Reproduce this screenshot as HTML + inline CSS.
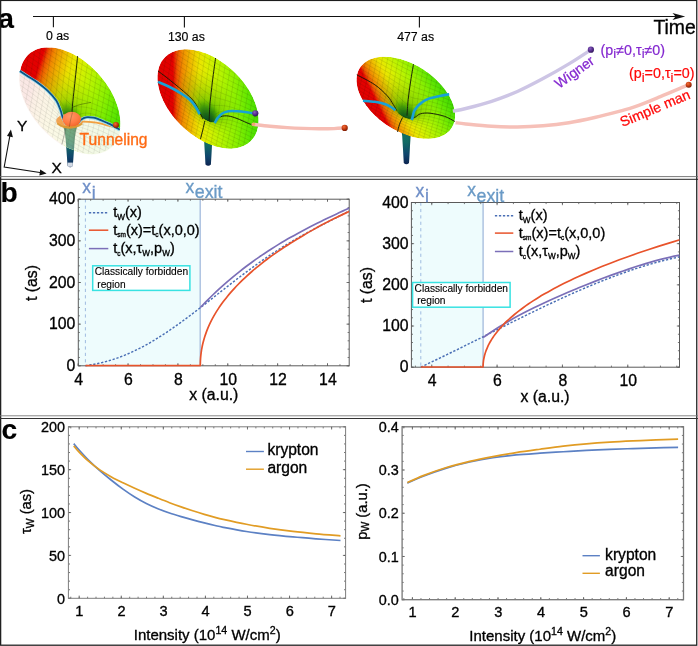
<!DOCTYPE html>
<html><head><meta charset="utf-8"><title>figure</title>
<style>
html,body{margin:0;padding:0;background:#fff;}
body{width:698px;height:646px;overflow:hidden;font-family:"Liberation Sans",sans-serif;}
svg{will-change:transform;opacity:0.9999;}
svg text{font-family:"Liberation Sans",sans-serif;}
</style></head><body>
<svg width="698" height="646" viewBox="0 0 698 646" style="display:block">
<rect x="0" y="0" width="698" height="646" fill="#fff"/>
<defs>
<radialGradient id="gball_o" cx="0.38" cy="0.32" r="0.7"><stop offset="0" stop-color="#f0703a"/><stop offset="0.5" stop-color="#c83c10"/><stop offset="1" stop-color="#7a1c04"/></radialGradient>
<radialGradient id="gball_p" cx="0.38" cy="0.32" r="0.7"><stop offset="0" stop-color="#8a60c0"/><stop offset="0.5" stop-color="#5c3294"/><stop offset="1" stop-color="#2e1458"/></radialGradient>
<radialGradient id="gsphere" cx="0.4" cy="0.3" r="0.75"><stop offset="0" stop-color="#ff9868"/><stop offset="0.6" stop-color="#ff7c44"/><stop offset="1" stop-color="#f06428"/></radialGradient>
<linearGradient id="gstem" x1="0" y1="0" x2="0" y2="1"><stop offset="0" stop-color="#0e7058"/><stop offset="0.45" stop-color="#0b6462"/><stop offset="0.75" stop-color="#083c6c"/><stop offset="1" stop-color="#06164c"/></linearGradient>
<linearGradient id="gstem1" x1="0" y1="0" x2="0" y2="1"><stop offset="0" stop-color="#3f8a4c"/><stop offset="0.4" stop-color="#2c7a5c"/><stop offset="0.7" stop-color="#176670"/><stop offset="1" stop-color="#0a3a6c"/></linearGradient>
<linearGradient id="gstemh" x1="0" y1="0" x2="1" y2="0"><stop offset="0" stop-color="#000" stop-opacity="0.3"/><stop offset="0.45" stop-color="#6c9" stop-opacity="0.06"/><stop offset="1" stop-color="#000" stop-opacity="0.3"/></linearGradient>

<linearGradient id="gd0" gradientUnits="userSpaceOnUse" x1="11.13" y1="80.67" x2="124.32" y2="118.99"><stop offset="0.0" stop-color="#e00000"/><stop offset="0.18" stop-color="#e40000"/><stop offset="0.22" stop-color="#ec5400"/><stop offset="0.27" stop-color="#f08a00"/><stop offset="0.34" stop-color="#f0b400"/><stop offset="0.43" stop-color="#ece400"/><stop offset="0.52" stop-color="#d8f000"/><stop offset="0.64" stop-color="#b6f400"/><stop offset="0.78" stop-color="#8cf000"/><stop offset="0.9" stop-color="#62e800"/><stop offset="1.0" stop-color="#46dc00"/></linearGradient>
<clipPath id="cd0"><path d="M119.80,130.70 L120.14,128.36 L120.35,125.95 L120.41,123.46 L120.34,120.91 L120.13,118.31 L119.79,115.66 L119.31,112.97 L118.69,110.24 L117.94,107.49 L117.05,104.72 L116.04,101.93 L114.90,99.15 L113.64,96.36 L112.26,93.59 L110.76,90.84 L109.16,88.12 L107.44,85.43 L105.62,82.78 L103.71,80.18 L101.70,77.63 L99.60,75.15 L97.43,72.74 L95.18,70.40 L92.85,68.15 L90.47,65.99 L88.03,63.92 L85.54,61.95 L83.01,60.09 L80.45,58.34 L77.85,56.70 L75.23,55.18 L72.60,53.79 L69.96,52.53 L67.32,51.40 L64.69,50.41 L62.08,49.55 L59.48,48.83 L56.92,48.25 L54.39,47.82 L51.90,47.53 L49.46,47.39 L47.08,47.39 L44.76,47.54 L42.51,47.84 L40.34,48.27 L38.24,48.86 L36.24,49.58 L34.33,50.44 L32.51,51.45 L30.80,52.58 L29.19,53.85 L27.70,55.25 L26.32,56.77 L25.06,58.41 L23.93,60.16 L22.92,62.03 L22.04,64.00 L21.29,66.08 L20.68,68.24 L20.20,70.50 L19.86,72.84 L19.65,75.25 L19.59,77.74 L19.66,80.29 L19.87,82.89 L20.21,85.54 L20.69,88.23 L21.31,90.96 L22.06,93.71 L22.95,96.48 L23.96,99.27 L25.10,102.05 L26.36,104.84 L27.74,107.61 L29.24,110.36 L30.84,113.08 L32.56,115.77 L34.38,118.42 L36.29,121.02 L38.30,123.57 L40.40,126.05 L42.57,128.46 L44.82,130.80 L47.15,133.05 L49.53,135.21 L51.97,137.28 L54.46,139.25 L56.99,141.11 L59.55,142.86 L62.15,144.50 L64.77,146.02 L67.40,147.41 L70.04,148.67 L72.68,149.80 L75.31,150.79 L77.92,151.65 L80.52,152.37 L83.08,152.95 L85.61,153.38 L88.10,153.67 L90.54,153.81 L92.92,153.81 L95.24,153.66 L97.49,153.36 L99.66,152.93 L101.76,152.34 L103.76,151.62 L105.67,150.76 L107.49,149.75 L109.20,148.62 L110.81,147.35 L112.30,145.95 L113.68,144.43 L114.94,142.79 L116.07,141.04 L117.08,139.17 L117.96,137.20 L118.71,135.12 L119.32,132.96Z"/></clipPath>
<linearGradient id="gd1" gradientUnits="userSpaceOnUse" x1="154.10" y1="99.00" x2="258.60" y2="99.00"><stop offset="0.0" stop-color="#e00000"/><stop offset="0.18" stop-color="#e40000"/><stop offset="0.22" stop-color="#ec5400"/><stop offset="0.27" stop-color="#f08a00"/><stop offset="0.34" stop-color="#f0b400"/><stop offset="0.43" stop-color="#ece400"/><stop offset="0.52" stop-color="#d8f000"/><stop offset="0.64" stop-color="#b6f400"/><stop offset="0.78" stop-color="#8cf000"/><stop offset="0.9" stop-color="#62e800"/><stop offset="1.0" stop-color="#46dc00"/></linearGradient>
<clipPath id="cd1"><path d="M258.00,127.00 L258.33,124.82 L258.52,122.56 L258.57,120.24 L258.49,117.86 L258.26,115.43 L257.90,112.96 L257.40,110.45 L256.77,107.90 L256.00,105.33 L255.10,102.75 L254.07,100.15 L252.92,97.55 L251.64,94.96 L250.24,92.37 L248.73,89.81 L247.10,87.27 L245.37,84.76 L243.54,82.29 L241.61,79.86 L239.58,77.49 L237.47,75.18 L235.28,72.93 L233.01,70.76 L230.68,68.66 L228.28,66.64 L225.83,64.72 L223.33,62.88 L220.78,61.15 L218.21,59.52 L215.60,58.00 L212.97,56.59 L210.33,55.30 L207.68,54.12 L205.04,53.07 L202.40,52.15 L199.78,51.35 L197.18,50.69 L194.61,50.16 L192.07,49.76 L189.58,49.49 L187.14,49.36 L184.76,49.37 L182.44,49.52 L180.19,49.80 L178.02,50.21 L175.93,50.76 L173.93,51.44 L172.02,52.25 L170.21,53.19 L168.50,54.25 L166.90,55.44 L165.41,56.74 L164.04,58.17 L162.80,59.70 L161.67,61.34 L160.67,63.09 L159.80,64.93 L159.07,66.87 L158.47,68.89 L158.00,71.00 L157.67,73.18 L157.48,75.44 L157.43,77.76 L157.51,80.14 L157.74,82.57 L158.10,85.04 L158.60,87.55 L159.23,90.10 L160.00,92.67 L160.90,95.25 L161.93,97.85 L163.08,100.45 L164.36,103.04 L165.76,105.63 L167.27,108.19 L168.90,110.73 L170.63,113.24 L172.46,115.71 L174.39,118.14 L176.42,120.51 L178.53,122.82 L180.72,125.07 L182.99,127.24 L185.32,129.34 L187.72,131.36 L190.17,133.28 L192.67,135.12 L195.22,136.85 L197.79,138.48 L200.40,140.00 L203.03,141.41 L205.67,142.70 L208.32,143.88 L210.96,144.93 L213.60,145.85 L216.22,146.65 L218.82,147.31 L221.39,147.84 L223.93,148.24 L226.42,148.51 L228.86,148.64 L231.24,148.63 L233.56,148.48 L235.81,148.20 L237.98,147.79 L240.07,147.24 L242.07,146.56 L243.98,145.75 L245.79,144.81 L247.50,143.75 L249.10,142.56 L250.59,141.26 L251.96,139.83 L253.20,138.30 L254.33,136.66 L255.33,134.91 L256.20,133.07 L256.93,131.13 L257.53,129.11Z"/></clipPath>
<linearGradient id="gd2" gradientUnits="userSpaceOnUse" x1="367.50" y1="116.63" x2="439.71" y2="81.13"><stop offset="0.0" stop-color="#e00000"/><stop offset="0.18" stop-color="#e40000"/><stop offset="0.22" stop-color="#ec5400"/><stop offset="0.27" stop-color="#f08a00"/><stop offset="0.34" stop-color="#f0b400"/><stop offset="0.43" stop-color="#ece400"/><stop offset="0.52" stop-color="#d8f000"/><stop offset="0.64" stop-color="#b6f400"/><stop offset="0.78" stop-color="#8cf000"/><stop offset="0.9" stop-color="#62e800"/><stop offset="1.0" stop-color="#46dc00"/></linearGradient>
<clipPath id="cd2"><path d="M454.50,121.10 L454.84,119.30 L455.04,117.44 L455.10,115.53 L455.04,113.56 L454.83,111.56 L454.50,109.51 L454.02,107.44 L453.42,105.34 L452.69,103.22 L451.83,101.08 L450.84,98.93 L449.73,96.78 L448.49,94.64 L447.14,92.50 L445.68,90.38 L444.11,88.27 L442.43,86.20 L440.65,84.15 L438.78,82.14 L436.82,80.18 L434.77,78.26 L432.64,76.40 L430.44,74.59 L428.17,72.85 L425.84,71.18 L423.46,69.58 L421.02,68.06 L418.55,66.62 L416.04,65.27 L413.50,64.00 L410.94,62.83 L408.37,61.75 L405.79,60.77 L403.21,59.89 L400.63,59.12 L398.07,58.45 L395.54,57.90 L393.03,57.45 L390.55,57.11 L388.12,56.88 L385.73,56.76 L383.40,56.76 L381.14,56.87 L378.94,57.09 L376.81,57.42 L374.76,57.87 L372.80,58.42 L370.93,59.08 L369.15,59.85 L367.47,60.72 L365.90,61.69 L364.44,62.77 L363.09,63.93 L361.86,65.20 L360.75,66.55 L359.77,67.98 L358.90,69.50 L358.17,71.09 L357.57,72.76 L357.10,74.50 L356.76,76.30 L356.56,78.16 L356.50,80.07 L356.56,82.04 L356.77,84.04 L357.10,86.09 L357.58,88.16 L358.18,90.26 L358.91,92.38 L359.77,94.52 L360.76,96.67 L361.87,98.82 L363.11,100.96 L364.46,103.10 L365.92,105.22 L367.49,107.33 L369.17,109.40 L370.95,111.45 L372.82,113.46 L374.78,115.42 L376.83,117.34 L378.96,119.20 L381.16,121.01 L383.43,122.75 L385.76,124.42 L388.14,126.02 L390.58,127.54 L393.05,128.98 L395.56,130.33 L398.10,131.60 L400.66,132.77 L403.23,133.85 L405.81,134.83 L408.39,135.71 L410.97,136.48 L413.53,137.15 L416.06,137.70 L418.57,138.15 L421.05,138.49 L423.48,138.72 L425.87,138.84 L428.20,138.84 L430.46,138.73 L432.66,138.51 L434.79,138.18 L436.84,137.73 L438.80,137.18 L440.67,136.52 L442.45,135.75 L444.13,134.88 L445.70,133.91 L447.16,132.83 L448.51,131.67 L449.74,130.40 L450.85,129.05 L451.83,127.62 L452.70,126.10 L453.43,124.51 L454.03,122.84Z"/></clipPath>
</defs>
<g stroke="#111" stroke-width="1.1" fill="none">
<path d="M33,16.5H676"/>
<path d="M53.4,16.5V27.3 M184.4,16.5V27.5 M419.4,16.5V27.5"/>
</g>
<path d="M685.2,16.5 L672.5,12.9 L675.6,16.5 L672.5,20.1Z" fill="#111"/>
<text x="45.90" y="40.40" font-size="12.3" text-anchor="start" fill="#000"  stroke="#000" stroke-width="0.16">0 as</text>
<text x="167.90" y="40.50" font-size="12.3" text-anchor="start" fill="#000"  stroke="#000" stroke-width="0.16">130 as</text>
<text x="397.20" y="40.50" font-size="12.3" text-anchor="start" fill="#000"  stroke="#000" stroke-width="0.16">477 as</text>
<text x="653.40" y="34.10" font-size="19.4" text-anchor="start" fill="#000"  stroke="#000" stroke-width="0.32">Time</text>
<g opacity="1.0"><path d="M63.30,126.00 Q64.80,130.94 65.64,138.36 L67.60,166.00 Q70.20,168.40 72.80,166.00 L74.76,138.36 Q75.60,130.94 77.10,126.00Z" fill="url(#gstem)"/><path d="M63.30,126.00 Q64.80,130.94 65.64,138.36 L67.60,166.00 Q70.20,168.40 72.80,166.00 L74.76,138.36 Q75.60,130.94 77.10,126.00Z" fill="url(#gstemh)"/></g>
<rect x="67.6" y="162.6" width="5.2" height="4.2" fill="#e8edf4" opacity="0.9"/>
<g clip-path="url(#cd0)">
<path d="M119.80,130.70 L120.14,128.36 L120.35,125.95 L120.41,123.46 L120.34,120.91 L120.13,118.31 L119.79,115.66 L119.31,112.97 L118.69,110.24 L117.94,107.49 L117.05,104.72 L116.04,101.93 L114.90,99.15 L113.64,96.36 L112.26,93.59 L110.76,90.84 L109.16,88.12 L107.44,85.43 L105.62,82.78 L103.71,80.18 L101.70,77.63 L99.60,75.15 L97.43,72.74 L95.18,70.40 L92.85,68.15 L90.47,65.99 L88.03,63.92 L85.54,61.95 L83.01,60.09 L80.45,58.34 L77.85,56.70 L75.23,55.18 L72.60,53.79 L69.96,52.53 L67.32,51.40 L64.69,50.41 L62.08,49.55 L59.48,48.83 L56.92,48.25 L54.39,47.82 L51.90,47.53 L49.46,47.39 L47.08,47.39 L44.76,47.54 L42.51,47.84 L40.34,48.27 L38.24,48.86 L36.24,49.58 L34.33,50.44 L32.51,51.45 L30.80,52.58 L29.19,53.85 L27.70,55.25 L26.32,56.77 L25.06,58.41 L23.93,60.16 L22.92,62.03 L22.04,64.00 L21.29,66.08 L20.68,68.24 L20.20,70.50 L19.86,72.84 L19.65,75.25 L19.59,77.74 L19.66,80.29 L19.87,82.89 L20.21,85.54 L20.69,88.23 L21.31,90.96 L22.06,93.71 L22.95,96.48 L23.96,99.27 L25.10,102.05 L26.36,104.84 L27.74,107.61 L29.24,110.36 L30.84,113.08 L32.56,115.77 L34.38,118.42 L36.29,121.02 L38.30,123.57 L40.40,126.05 L42.57,128.46 L44.82,130.80 L47.15,133.05 L49.53,135.21 L51.97,137.28 L54.46,139.25 L56.99,141.11 L59.55,142.86 L62.15,144.50 L64.77,146.02 L67.40,147.41 L70.04,148.67 L72.68,149.80 L75.31,150.79 L77.92,151.65 L80.52,152.37 L83.08,152.95 L85.61,153.38 L88.10,153.67 L90.54,153.81 L92.92,153.81 L95.24,153.66 L97.49,153.36 L99.66,152.93 L101.76,152.34 L103.76,151.62 L105.67,150.76 L107.49,149.75 L109.20,148.62 L110.81,147.35 L112.30,145.95 L113.68,144.43 L114.94,142.79 L116.07,141.04 L117.08,139.17 L117.96,137.20 L118.71,135.12 L119.32,132.96Z" fill="url(#gd0)"/>
<path d="M100.88,121.62 L101.23,115.96 L100.39,109.79 L98.38,103.36 L95.27,96.91 L91.20,90.70 L86.31,84.96 L80.80,79.91 L74.87,75.74 L68.75,72.63 L62.68,70.67 L56.89,69.96 L51.61,70.52 L47.03,72.32 L43.34,75.31 L40.67,79.35 L39.12,84.30 L38.77,89.97 L39.61,96.14 L41.62,102.57 L44.73,109.01 L48.80,115.23 L53.69,120.97 L59.20,126.02 L65.13,130.18 L71.25,133.30 L77.32,135.25 L83.11,135.96 L88.39,135.40 L92.97,133.60 L96.66,130.62 L99.33,126.58Z" fill="#3fae00" opacity="0.024"/>
<path d="M97.39,120.29 L97.71,115.26 L96.96,109.79 L95.17,104.08 L92.42,98.37 L88.81,92.86 L84.47,87.76 L79.58,83.28 L74.32,79.59 L68.89,76.82 L63.51,75.09 L58.37,74.46 L53.69,74.95 L49.62,76.55 L46.35,79.20 L43.98,82.79 L42.61,87.18 L42.29,92.21 L43.04,97.68 L44.83,103.38 L47.58,109.10 L51.19,114.61 L55.53,119.71 L60.42,124.19 L65.68,127.88 L71.11,130.64 L76.49,132.38 L81.63,133.01 L86.31,132.51 L90.38,130.91 L93.65,128.27 L96.02,124.68Z" fill="#3fae00" opacity="0.030"/>
<path d="M93.90,119.16 L94.18,114.77 L93.53,110.00 L91.97,105.02 L89.57,100.03 L86.41,95.22 L82.63,90.77 L78.36,86.86 L73.77,83.64 L69.03,81.23 L64.33,79.72 L59.85,79.17 L55.76,79.60 L52.22,80.99 L49.36,83.30 L47.29,86.43 L46.10,90.27 L45.82,94.65 L46.47,99.43 L48.03,104.41 L50.43,109.40 L53.59,114.21 L57.37,118.65 L61.64,122.56 L66.23,125.79 L70.97,128.20 L75.67,129.71 L80.15,130.26 L84.24,129.83 L87.78,128.43 L90.64,126.13 L92.71,122.99Z" fill="#3fae00" opacity="0.036"/>
<path d="M90.92,118.43 L91.16,114.59 L90.59,110.41 L89.22,106.05 L87.12,101.69 L84.36,97.48 L81.05,93.59 L77.31,90.17 L73.30,87.35 L69.15,85.24 L65.04,83.91 L61.12,83.43 L57.54,83.81 L54.44,85.03 L51.94,87.05 L50.13,89.79 L49.08,93.14 L48.84,96.98 L49.41,101.16 L50.78,105.52 L52.88,109.88 L55.64,114.09 L58.95,117.98 L62.69,121.40 L66.70,124.22 L70.85,126.34 L74.96,127.66 L78.88,128.14 L82.46,127.76 L85.56,126.54 L88.06,124.52 L89.87,121.78Z" fill="#3fae00" opacity="0.042"/>
<path d="M88.43,118.05 L88.64,114.67 L88.13,110.99 L86.93,107.15 L85.08,103.30 L82.65,99.59 L79.73,96.17 L76.44,93.15 L72.90,90.67 L69.25,88.81 L65.63,87.64 L62.18,87.22 L59.02,87.55 L56.29,88.63 L54.09,90.41 L52.49,92.82 L51.57,95.77 L51.36,99.16 L51.87,102.84 L53.07,106.68 L54.92,110.52 L57.35,114.23 L60.27,117.66 L63.56,120.67 L67.10,123.15 L70.75,125.02 L74.37,126.18 L77.82,126.60 L80.98,126.27 L83.71,125.20 L85.91,123.42 L87.51,121.00Z" fill="#3fae00" opacity="0.048"/>
<path d="M86.43,117.95 L86.62,114.94 L86.17,111.65 L85.10,108.23 L83.45,104.80 L81.28,101.49 L78.68,98.44 L75.75,95.75 L72.59,93.53 L69.33,91.87 L66.10,90.83 L63.02,90.46 L60.21,90.75 L57.77,91.71 L55.81,93.30 L54.39,95.45 L53.57,98.09 L53.38,101.10 L53.83,104.39 L54.90,107.81 L56.55,111.24 L58.72,114.55 L61.32,117.60 L64.25,120.29 L67.41,122.51 L70.67,124.17 L73.90,125.21 L76.98,125.58 L79.79,125.29 L82.23,124.33 L84.19,122.74 L85.61,120.59Z" fill="#3fae00" opacity="0.054"/>
<path d="M84.44,118.10 L84.61,115.45 L84.21,112.57 L83.27,109.56 L81.82,106.54 L79.92,103.64 L77.63,100.95 L75.05,98.59 L72.28,96.64 L69.42,95.18 L66.58,94.27 L63.87,93.94 L61.40,94.20 L59.26,95.04 L57.53,96.44 L56.28,98.33 L55.56,100.64 L55.39,103.30 L55.79,106.18 L56.73,109.19 L58.18,112.20 L60.08,115.11 L62.37,117.80 L64.95,120.16 L67.72,122.10 L70.58,123.56 L73.42,124.48 L76.13,124.81 L78.60,124.55 L80.74,123.70 L82.47,122.31 L83.72,120.42Z" fill="#3fae00" opacity="0.060"/>
<path d="M82.95,118.42 L83.10,116.05 L82.74,113.46 L81.90,110.76 L80.60,108.06 L78.89,105.45 L76.84,103.05 L74.53,100.93 L72.04,99.18 L69.48,97.88 L66.93,97.06 L64.50,96.76 L62.29,96.99 L60.37,97.75 L58.82,99.00 L57.70,100.69 L57.05,102.77 L56.90,105.15 L57.26,107.73 L58.10,110.43 L59.40,113.13 L61.11,115.74 L63.16,118.15 L65.47,120.27 L67.96,122.01 L70.52,123.32 L73.07,124.14 L75.50,124.44 L77.71,124.20 L79.63,123.45 L81.18,122.20 L82.30,120.50Z" fill="#3fae00" opacity="0.060"/>
<clipPath id="clip0"><path d="M81.95,118.76 L82.10,117.32 L82.03,115.79 L81.76,114.18 L81.29,112.52 L80.63,110.85 L79.78,109.19 L78.77,107.57 L77.61,106.02 L76.31,104.57 L74.91,103.23 L73.43,102.03 L71.88,101.00 L70.31,100.15 L68.73,99.49 L67.17,99.04 L65.66,98.80 L64.22,98.78 L62.88,98.98 L61.66,99.39 L60.59,100.01 L59.68,100.83 L58.94,101.83 L58.40,103.00 L58.05,104.31 L57.90,105.75 L57.97,107.28 L58.24,108.89 L58.71,110.55 L59.37,112.22 L60.22,113.88 L61.23,115.50 L62.39,117.05 L63.69,118.51 L65.09,119.84 L66.57,121.04 L68.12,122.07 L69.69,122.92 L71.27,123.58 L72.83,124.03 L74.34,124.27 L75.78,124.29 L77.12,124.09 L78.34,123.68 L79.41,123.06 L80.32,122.24 L81.06,121.24 L81.60,120.07Z"/></clipPath>
<g clip-path="url(#clip0)">
<path d="M81.70,118.86 L81.84,116.71 L81.52,114.37 L80.76,111.94 L79.58,109.49 L78.04,107.14 L76.18,104.96 L74.09,103.05 L71.84,101.47 L69.53,100.29 L67.23,99.55 L65.03,99.28 L63.03,99.49 L61.29,100.17 L59.89,101.30 L58.88,102.84 L58.30,104.71 L58.16,106.86 L58.48,109.20 L59.24,111.64 L60.42,114.08 L61.96,116.44 L63.82,118.61 L65.91,120.53 L68.16,122.10 L70.47,123.29 L72.77,124.03 L74.97,124.30 L76.97,124.08 L78.71,123.40 L80.11,122.27 L81.12,120.74Z" fill="#4ab800" opacity="0.07"/>
<path d="M81.17,119.10 L81.30,117.05 L81.00,114.82 L80.27,112.49 L79.14,110.16 L77.67,107.91 L75.90,105.84 L73.91,104.01 L71.76,102.50 L69.55,101.37 L67.35,100.67 L65.26,100.41 L63.35,100.61 L61.69,101.27 L60.35,102.34 L59.39,103.81 L58.83,105.60 L58.70,107.65 L59.00,109.88 L59.73,112.21 L60.86,114.54 L62.33,116.79 L64.10,118.87 L66.09,120.69 L68.24,122.20 L70.45,123.33 L72.65,124.03 L74.74,124.29 L76.65,124.09 L78.31,123.44 L79.65,122.36 L80.61,120.90Z" fill="#42ab03" opacity="0.08"/>
<path d="M80.64,119.38 L80.76,117.43 L80.47,115.30 L79.78,113.09 L78.71,110.87 L77.31,108.73 L75.62,106.75 L73.72,105.01 L71.68,103.57 L69.57,102.50 L67.48,101.82 L65.48,101.58 L63.66,101.77 L62.08,102.39 L60.81,103.42 L59.89,104.81 L59.36,106.52 L59.24,108.47 L59.53,110.60 L60.22,112.81 L61.29,115.04 L62.69,117.18 L64.38,119.16 L66.28,120.90 L68.32,122.33 L70.43,123.41 L72.52,124.08 L74.52,124.32 L76.34,124.13 L77.92,123.51 L79.19,122.48 L80.11,121.09Z" fill="#3da206" opacity="0.10"/>
<path d="M80.11,119.70 L80.23,117.85 L79.95,115.83 L79.29,113.72 L78.28,111.61 L76.94,109.58 L75.34,107.70 L73.54,106.04 L71.59,104.68 L69.59,103.66 L67.60,103.02 L65.71,102.79 L63.98,102.97 L62.48,103.56 L61.27,104.54 L60.40,105.86 L59.89,107.48 L59.77,109.34 L60.05,111.36 L60.71,113.46 L61.72,115.57 L63.06,117.61 L64.66,119.49 L66.46,121.14 L68.41,122.50 L70.41,123.52 L72.40,124.16 L74.29,124.40 L76.02,124.21 L77.52,123.62 L78.73,122.65 L79.60,121.32Z" fill="#389a09" opacity="0.11"/>
<path d="M79.58,120.06 L79.69,118.30 L79.43,116.39 L78.80,114.40 L77.84,112.40 L76.58,110.47 L75.06,108.69 L73.35,107.12 L71.51,105.83 L69.61,104.86 L67.73,104.26 L65.93,104.04 L64.29,104.21 L62.87,104.77 L61.73,105.69 L60.90,106.95 L60.42,108.48 L60.31,110.24 L60.57,112.16 L61.20,114.15 L62.16,116.15 L63.42,118.08 L64.94,119.86 L66.65,121.42 L68.49,122.72 L70.39,123.68 L72.27,124.29 L74.07,124.51 L75.71,124.34 L77.13,123.78 L78.27,122.85 L79.10,121.60Z" fill="#34920b" opacity="0.13"/>
<path d="M79.05,120.47 L79.15,118.81 L78.90,117.00 L78.31,115.12 L77.41,113.23 L76.21,111.41 L74.78,109.73 L73.16,108.25 L71.43,107.03 L69.63,106.11 L67.86,105.54 L66.16,105.33 L64.61,105.49 L63.27,106.02 L62.19,106.90 L61.41,108.08 L60.95,109.53 L60.85,111.19 L61.10,113.00 L61.69,114.88 L62.59,116.77 L63.79,118.59 L65.22,120.28 L66.84,121.76 L68.57,122.98 L70.37,123.89 L72.14,124.46 L73.84,124.67 L75.39,124.51 L76.73,123.98 L77.81,123.10 L78.59,121.92Z" fill="#308b0e" opacity="0.16"/>
<path d="M78.52,120.92 L78.61,119.36 L78.38,117.66 L77.83,115.89 L76.97,114.11 L75.85,112.39 L74.50,110.81 L72.98,109.42 L71.34,108.27 L69.66,107.41 L67.98,106.87 L66.38,106.67 L64.93,106.83 L63.67,107.33 L62.65,108.15 L61.91,109.26 L61.48,110.63 L61.39,112.19 L61.62,113.89 L62.17,115.67 L63.03,117.44 L64.15,119.16 L65.50,120.74 L67.02,122.13 L68.66,123.28 L70.34,124.14 L72.02,124.68 L73.62,124.88 L75.07,124.72 L76.33,124.23 L77.35,123.40 L78.09,122.29Z" fill="#2c8410" opacity="0.18"/>
<path d="M77.98,121.43 L78.08,119.96 L77.86,118.37 L77.34,116.70 L76.54,115.04 L75.48,113.43 L74.22,111.95 L72.79,110.64 L71.26,109.56 L69.68,108.76 L68.11,108.25 L66.61,108.07 L65.24,108.21 L64.06,108.68 L63.10,109.45 L62.41,110.50 L62.02,111.78 L61.92,113.24 L62.14,114.84 L62.66,116.50 L63.46,118.17 L64.52,119.77 L65.78,121.26 L67.21,122.56 L68.74,123.64 L70.32,124.45 L71.89,124.95 L73.39,125.14 L74.76,124.99 L75.94,124.53 L76.90,123.75 L77.59,122.71Z" fill="#287d12" opacity="0.21"/>
<path d="M77.45,121.98 L77.54,120.62 L77.34,119.13 L76.85,117.58 L76.10,116.02 L75.12,114.52 L73.94,113.13 L72.61,111.91 L71.17,110.91 L69.70,110.16 L68.23,109.69 L66.84,109.51 L65.56,109.65 L64.46,110.08 L63.56,110.80 L62.92,111.78 L62.55,112.97 L62.46,114.34 L62.66,115.83 L63.15,117.38 L63.90,118.94 L64.88,120.44 L66.06,121.83 L67.39,123.05 L68.83,124.05 L70.30,124.80 L71.77,125.27 L73.16,125.45 L74.44,125.31 L75.54,124.88 L76.44,124.16 L77.08,123.18Z" fill="#247614" opacity="0.24"/>
<path d="M76.92,122.59 L77.00,121.32 L76.81,119.94 L76.36,118.50 L75.67,117.05 L74.75,115.66 L73.66,114.37 L72.42,113.24 L71.09,112.31 L69.72,111.61 L68.36,111.17 L67.06,111.01 L65.88,111.14 L64.85,111.54 L64.02,112.21 L63.42,113.12 L63.08,114.23 L63.00,115.50 L63.19,116.88 L63.64,118.32 L64.33,119.77 L65.25,121.16 L66.34,122.45 L67.58,123.58 L68.91,124.51 L70.28,125.21 L71.64,125.65 L72.94,125.81 L74.12,125.68 L75.15,125.28 L75.98,124.61 L76.58,123.71Z" fill="#207016" opacity="0.27"/>
<path d="M76.39,123.26 L76.46,122.08 L76.29,120.81 L75.87,119.48 L75.23,118.14 L74.39,116.86 L73.38,115.67 L72.23,114.62 L71.01,113.76 L69.74,113.12 L68.49,112.71 L67.29,112.56 L66.19,112.68 L65.25,113.05 L64.48,113.67 L63.93,114.51 L63.61,115.53 L63.54,116.71 L63.71,117.98 L64.13,119.31 L64.77,120.65 L65.61,121.93 L66.62,123.12 L67.77,124.17 L68.99,125.03 L70.26,125.67 L71.51,126.08 L72.71,126.23 L73.81,126.11 L74.75,125.74 L75.52,125.12 L76.07,124.28Z" fill="#1d6918" opacity="0.30"/>
<path d="M75.86,123.97 L75.93,122.89 L75.77,121.72 L75.39,120.50 L74.80,119.28 L74.02,118.10 L73.10,117.01 L72.05,116.05 L70.92,115.26 L69.76,114.67 L68.61,114.30 L67.51,114.17 L66.51,114.27 L65.64,114.61 L64.94,115.18 L64.43,115.95 L64.14,116.89 L64.07,117.96 L64.23,119.13 L64.61,120.35 L65.20,121.58 L65.98,122.76 L66.90,123.85 L67.95,124.80 L69.08,125.59 L70.24,126.19 L71.39,126.56 L72.49,126.69 L73.49,126.59 L74.36,126.24 L75.06,125.68 L75.57,124.91Z" fill="#19631a" opacity="0.33"/>
<path d="M75.33,124.73 L75.39,123.75 L75.24,122.69 L74.90,121.58 L74.36,120.46 L73.66,119.39 L72.82,118.40 L71.86,117.53 L70.84,116.81 L69.78,116.27 L68.74,115.94 L67.74,115.81 L66.83,115.91 L66.04,116.22 L65.40,116.73 L64.94,117.43 L64.67,118.29 L64.61,119.27 L64.76,120.33 L65.10,121.44 L65.64,122.55 L66.34,123.62 L67.18,124.62 L68.14,125.49 L69.16,126.21 L70.22,126.74 L71.26,127.08 L72.26,127.20 L73.17,127.11 L73.96,126.80 L74.60,126.28 L75.06,125.58Z" fill="#165d1c" opacity="0.36"/>
<path d="M74.80,125.52 L74.85,124.64 L74.72,123.68 L74.41,122.68 L73.93,121.68 L73.29,120.72 L72.53,119.82 L71.68,119.04 L70.76,118.39 L69.81,117.91 L68.86,117.61 L67.96,117.49 L67.14,117.58 L66.43,117.86 L65.86,118.32 L65.44,118.95 L65.20,119.72 L65.15,120.60 L65.28,121.56 L65.59,122.56 L66.07,123.56 L66.71,124.53 L67.47,125.42 L68.32,126.20 L69.24,126.85 L70.19,127.34 L71.14,127.64 L72.04,127.75 L72.86,127.66 L73.57,127.38 L74.14,126.92 L74.56,126.29Z" fill="#12571e" opacity="0.40"/>
<path d="M74.27,126.34 L74.32,125.55 L74.20,124.70 L73.92,123.81 L73.49,122.92 L72.93,122.06 L72.25,121.27 L71.49,120.57 L70.67,120.00 L69.83,119.57 L68.99,119.30 L68.19,119.20 L67.46,119.28 L66.83,119.52 L66.32,119.94 L65.95,120.50 L65.73,121.18 L65.68,121.96 L65.80,122.81 L66.08,123.70 L66.51,124.59 L67.07,125.45 L67.75,126.25 L68.51,126.94 L69.33,127.52 L70.17,127.95 L71.01,128.22 L71.81,128.32 L72.54,128.24 L73.17,127.99 L73.68,127.58 L74.05,127.02Z" fill="#0f5120" opacity="0.43"/>
<path d="M73.73,127.15 L73.78,126.47 L73.68,125.72 L73.43,124.94 L73.06,124.16 L72.56,123.41 L71.97,122.72 L71.31,122.11 L70.59,121.60 L69.85,121.23 L69.11,120.99 L68.41,120.90 L67.78,120.97 L67.22,121.19 L66.77,121.55 L66.45,122.04 L66.27,122.64 L66.22,123.32 L66.32,124.07 L66.57,124.85 L66.94,125.63 L67.44,126.38 L68.03,127.07 L68.69,127.68 L69.41,128.19 L70.15,128.56 L70.89,128.80 L71.59,128.89 L72.22,128.82 L72.78,128.60 L73.23,128.24 L73.55,127.75Z" fill="#0c4c22" opacity="0.47"/>
</g>
<path d="M21.8,92.6L23.3,84.2L24.9,75.5L26.5,66.7L28.0,57.6L28.6,54.4M25.4,102.9L27.0,94.5L28.6,86.1L30.2,77.5L31.7,68.6L33.3,59.4L34.9,50.2M29.5,110.9L31.1,102.7L32.7,94.5L34.2,86.1L35.8,77.4L37.4,68.2L39.0,58.9L40.5,49.5L40.7,48.2M33.8,117.7L35.4,109.6L37.0,101.6L38.6,93.6L40.1,85.1L41.7,76.0L43.3,66.5L44.8,56.9L46.4,47.4M38.3,123.6L39.9,115.6L41.4,107.8L43.0,100.2L44.6,92.2L46.2,83.2L47.7,73.4L49.3,63.5L50.9,53.8L51.9,47.5M42.9,128.8L44.5,120.9L46.0,113.3L47.6,106.1L49.2,98.9L49.7,96.1L50.3,93.1L50.8,89.8L51.4,86.3L51.9,82.7L52.5,79.0L54.0,68.6L55.6,58.6L57.2,48.9L57.3,48.3M47.6,133.4L49.1,125.6L50.7,118.2L52.3,111.5L52.8,109.4L53.4,107.3L53.9,105.2L54.5,102.9L55.0,100.2L55.6,96.8L56.1,93.0L56.7,89.0L57.2,84.9L57.8,80.9L58.3,76.9L59.9,66.3L61.5,56.3L62.5,49.7M52.3,137.6L53.9,129.8L55.5,122.5L57.1,116.3L57.6,114.5L58.2,113.1L58.7,111.9L59.0,111.4L59.3,110.8L59.5,110.0L59.8,108.9L60.1,107.5L60.4,105.7L60.6,103.6L60.9,101.3L61.2,98.8L61.5,96.3L61.7,93.8L62.0,91.3L62.6,86.6L63.1,82.3L63.7,78.2L65.2,67.3L66.8,57.3L67.7,51.6M57.2,141.3L58.8,133.5L60.3,126.2L61.9,120.4L62.5,119.0L63.0,118.2L63.3,118.1L63.6,118.3L63.8,118.7M66.0,107.6L66.3,104.0L66.6,100.6L66.9,97.5L67.1,94.6L67.4,91.9L68.0,87.0L68.5,82.6L69.1,78.4L70.6,67.7L72.2,57.8L72.8,53.9M62.1,144.5L63.7,136.7L65.3,129.5L66.9,123.8L67.4,122.5L68.0,122.0L68.2,122.2L68.5,122.8M71.5,105.5L71.8,102.0L72.1,98.7L72.4,95.8L72.9,90.7L73.5,86.1L74.0,81.9L75.6,71.0L77.1,61.0L77.8,56.7M67.2,147.3L68.7,139.5L70.3,132.3L71.9,126.4L72.4,125.0L73.0,124.2L73.3,124.1L73.5,124.3L73.8,124.7M76.0,113.6L76.3,110.0L76.6,106.6L76.8,103.5L77.1,100.6L77.4,97.9L77.9,93.0L78.5,88.6L79.0,84.5L80.6,73.7L82.2,63.8L82.8,59.9M72.3,149.6L73.8,141.8L75.4,134.5L77.0,128.3L77.5,126.6L78.1,125.1L78.6,124.0L78.9,123.4L79.2,122.8L79.5,122.0L79.7,121.0L80.0,119.6L80.3,117.8L80.6,115.7L80.8,113.3L81.1,110.8L81.4,108.3L81.6,105.8L81.9,103.4L82.5,98.7L83.0,94.3L83.6,90.2L85.1,79.4L86.7,69.4L87.7,63.6M77.5,151.5L79.0,143.6L80.6,136.2L82.2,129.5L82.7,127.4L83.3,125.4L83.8,123.3L84.4,121.0L84.9,118.2L85.5,114.9L86.0,111.1L86.6,107.1L87.1,103.0L87.7,98.9L88.2,95.0L89.8,84.4L91.3,74.4L92.4,67.8M82.7,152.9L84.3,144.9L85.9,137.4L87.4,130.2L89.0,123.0L89.6,120.2L90.1,117.2L90.7,113.9L91.2,110.4L91.8,106.8L92.3,103.1L93.9,92.7L95.4,82.7L97.0,73.0L97.1,72.4M88.1,153.7L89.7,145.7L91.2,137.9L92.8,130.3L94.4,122.3L96.0,113.3L97.5,103.5L99.1,93.6L100.7,83.9L101.7,77.6M93.6,153.8L95.2,145.7L96.7,137.7L98.3,129.7L99.9,121.2L101.4,112.1L103.0,102.6L104.6,93.0L106.2,83.5M99.3,153.0L100.8,144.8L102.4,136.6L104.0,128.3L105.5,119.5L107.1,110.4L108.7,101.0L110.2,91.6L110.5,90.3M105.1,151.0L106.7,142.7L108.3,134.3L109.8,125.7L111.4,116.7L113.0,107.6L114.5,98.3M111.4,146.8L113.0,138.3L114.5,129.7L116.1,120.8L117.7,111.8L118.2,108.6M41.2,127.0L51.2,133.3L61.1,139.5L71.1,145.4L81.1,151.2L84.6,153.2M33.8,117.7L43.8,124.1L53.8,130.5L63.7,136.7L73.7,142.6L83.6,148.2L93.6,153.8M28.9,109.8L38.9,116.4L48.9,123.1L58.8,129.5L68.8,135.5L78.7,141.2L88.7,146.6L98.7,152.1L100.1,152.8M25.4,102.9L35.4,109.6L45.4,116.4L55.3,123.2L65.3,129.5L75.2,135.2L85.2,140.5L95.2,145.7L105.1,151.0M22.9,96.5L32.9,103.3L42.9,110.3L52.8,117.5L62.8,124.3L72.7,130.1L82.7,135.2L92.7,140.0L102.6,145.1L109.2,148.6M21.2,90.6L31.2,97.4L41.1,104.7L51.1,112.3L61.1,119.9L64.5,122.3L68.0,124.5L71.5,126.3L75.0,128.0L78.5,129.6L82.0,131.1L91.9,135.5L101.9,140.3L111.9,145.4L112.5,145.7M20.1,85.1L30.1,92.0L40.1,99.4L50.0,107.5L53.5,110.6L57.0,113.7L60.5,116.8L64.0,119.6L67.4,122.1L70.9,123.9L74.4,125.3L77.9,126.4L81.4,127.5L84.9,128.7L88.4,129.9L98.3,134.1L108.3,138.9L115.2,142.5M19.6,79.9L29.6,86.9L39.6,94.4L49.5,103.0L53.0,106.4L56.5,110.1L60.0,114.2L61.7,116.2L63.5,118.2L65.2,120.0L66.9,121.5L68.7,122.7L70.4,123.5L72.2,124.0L73.9,124.2L75.7,124.3L77.4,124.4L79.1,124.5L80.9,124.6L84.4,125.1L87.9,126.0L91.3,127.0L101.3,131.0L111.3,135.8L117.2,138.9M19.7,75.0L29.6,82.0L39.6,89.6L49.5,98.5L53.0,102.3L56.5,106.7L58.3,109.2L60.0,112.0L61.7,115.0M75.7,124.6L77.4,123.6L79.2,122.8L80.9,122.3L82.7,122.0L84.4,121.9L87.9,122.2L91.4,122.9L94.9,124.0L104.8,128.0L114.8,132.9L118.8,134.9M20.2,70.5L30.2,77.5L40.1,85.1L50.1,94.2L53.6,98.1L57.1,102.8L58.8,105.5L60.5,108.7M79.7,120.0L81.5,119.0L83.2,118.4L84.9,118.0L88.4,118.0L91.9,118.6L95.4,119.6L105.4,123.6L115.3,128.4L119.8,130.7M21.2,66.3L31.2,73.2L41.2,80.8L51.1,89.8L54.6,93.5L58.1,97.9L59.8,100.4L61.6,103.2L63.3,106.2M77.3,115.8L79.0,114.8L80.7,114.0L82.5,113.5L84.2,113.2L86.0,113.1L89.5,113.4L92.9,114.1L96.4,115.2L106.4,119.2L116.4,124.1L120.3,126.2M22.8,62.3L32.7,69.3L42.7,76.8L52.7,85.4L56.1,88.8L59.6,92.6L63.1,96.6L64.9,98.6L66.6,100.6L68.3,102.4L70.1,104.0L71.8,105.2L73.6,106.0L75.3,106.4L77.1,106.7L78.8,106.8L80.5,106.8L82.3,106.9L84.0,107.1L87.5,107.6L91.0,108.4L94.5,109.5L104.4,113.4L114.4,118.2L120.4,121.3M24.8,58.7L34.8,65.6L44.8,73.0L54.7,81.2L58.2,84.2L61.7,87.3L65.2,90.4L68.7,93.3L72.2,95.7L75.6,97.6L79.1,99.0L82.6,100.1L86.1,101.2L89.6,102.3L93.1,103.6L103.0,107.8L113.0,112.6L119.9,116.1M27.5,55.5L37.5,62.3L47.4,69.5L57.4,77.2L67.3,84.8L70.8,87.2L74.3,89.3L77.8,91.2L81.3,92.9L84.8,94.5L88.3,96.0L98.2,100.3L108.2,105.1L118.1,110.3L118.8,110.6M30.8,52.6L40.8,59.4L50.7,66.4L60.7,73.6L70.6,80.4L80.6,86.2L90.6,91.3L100.5,96.1L110.5,101.2L117.1,104.7M34.9,50.2L44.8,56.9L54.8,63.7L64.8,70.5L74.7,76.8L84.7,82.5L94.6,87.8L104.6,93.0L114.5,98.3M39.9,48.4L49.9,55.0L59.9,61.6L69.8,68.0L79.8,74.1L89.7,79.7L99.7,85.2L109.7,90.6L111.1,91.4M46.4,47.4L56.4,53.9L66.3,60.3L76.3,66.5L86.2,72.3L96.2,78.0L106.2,83.5M55.4,48.0L65.3,54.3L75.3,60.4L85.2,66.4L95.2,72.2L98.8,74.2" fill="none" stroke="#182800" stroke-width="0.5" opacity="0.21"/>
</g>
<clipPath id="creg"><path d="M19.80,71.20 L28.00,76.60 L36.70,82.10 L47.50,90.80 L56.20,100.80 L60.50,110.50 L62.60,117.60 L66.00,124.00 L70.00,127.00 L76.00,126.00 L78.00,123.40 L81.00,119.80 L85.90,117.50 L93.30,117.90 L99.50,119.80 L105.70,122.50 L111.90,125.30 L119.60,129.90 L119.91,130.08 L119.59,131.79 L119.19,133.46 L118.72,135.08 L118.18,136.64 L117.56,138.15 L116.86,139.60 L116.10,140.99 L115.27,142.32 L114.36,143.58 L113.39,144.78 L112.35,145.91 L111.24,146.97 L110.07,147.96 L108.84,148.87 L107.56,149.71 L106.21,150.48 L104.81,151.17 L103.35,151.78 L101.84,152.32 L100.29,152.77 L98.68,153.14 L97.04,153.44 L95.35,153.65 L93.62,153.78 L91.86,153.83 L90.06,153.79 L88.23,153.68 L86.37,153.48 L84.49,153.21 L82.59,152.85 L80.66,152.41 L78.73,151.89 L76.77,151.29 L74.81,150.62 L72.84,149.86 L70.86,149.04 L68.89,148.13 L66.91,147.16 L64.94,146.11 L62.98,145.00 L61.03,143.81 L59.09,142.56 L57.17,141.24 L55.27,139.86 L53.39,138.43 L51.54,136.93 L49.71,135.38 L47.92,133.77 L46.16,132.11 L44.44,130.41 L42.75,128.66 L41.11,126.86 L39.52,125.03 L37.97,123.15 L36.46,121.25 L35.01,119.31 L33.62,117.34 L32.28,115.35 L31.00,113.33 L29.77,111.30 L28.61,109.24 L27.52,107.18 L26.49,105.10 L25.52,103.02 L24.63,100.94 L23.80,98.85 L23.04,96.77 L22.36,94.69 L21.75,92.62 L21.21,90.56 L20.75,88.52 L20.37,86.50 L20.06,84.50 L19.83,82.52 L19.67,80.57 L19.59,78.66 L19.59,76.77 L19.67,74.92 L19.83,73.12 L20.06,71.35Z"/></clipPath>
<path d="M19.80,71.20 L28.00,76.60 L36.70,82.10 L47.50,90.80 L56.20,100.80 L60.50,110.50 L62.60,117.60 L66.00,124.00 L70.00,127.00 L76.00,126.00 L78.00,123.40 L81.00,119.80 L85.90,117.50 L93.30,117.90 L99.50,119.80 L105.70,122.50 L111.90,125.30 L119.60,129.90 L119.91,130.08 L119.59,131.79 L119.19,133.46 L118.72,135.08 L118.18,136.64 L117.56,138.15 L116.86,139.60 L116.10,140.99 L115.27,142.32 L114.36,143.58 L113.39,144.78 L112.35,145.91 L111.24,146.97 L110.07,147.96 L108.84,148.87 L107.56,149.71 L106.21,150.48 L104.81,151.17 L103.35,151.78 L101.84,152.32 L100.29,152.77 L98.68,153.14 L97.04,153.44 L95.35,153.65 L93.62,153.78 L91.86,153.83 L90.06,153.79 L88.23,153.68 L86.37,153.48 L84.49,153.21 L82.59,152.85 L80.66,152.41 L78.73,151.89 L76.77,151.29 L74.81,150.62 L72.84,149.86 L70.86,149.04 L68.89,148.13 L66.91,147.16 L64.94,146.11 L62.98,145.00 L61.03,143.81 L59.09,142.56 L57.17,141.24 L55.27,139.86 L53.39,138.43 L51.54,136.93 L49.71,135.38 L47.92,133.77 L46.16,132.11 L44.44,130.41 L42.75,128.66 L41.11,126.86 L39.52,125.03 L37.97,123.15 L36.46,121.25 L35.01,119.31 L33.62,117.34 L32.28,115.35 L31.00,113.33 L29.77,111.30 L28.61,109.24 L27.52,107.18 L26.49,105.10 L25.52,103.02 L24.63,100.94 L23.80,98.85 L23.04,96.77 L22.36,94.69 L21.75,92.62 L21.21,90.56 L20.75,88.52 L20.37,86.50 L20.06,84.50 L19.83,82.52 L19.67,80.57 L19.59,78.66 L19.59,76.77 L19.67,74.92 L19.83,73.12 L20.06,71.35Z" fill="#fcfaf6" opacity="0.93"/>
<path d="M62.98,145.00 L61.03,143.81 L59.09,142.56 L57.17,141.24 L55.27,139.86 L53.39,138.43 L51.54,136.93 L49.71,135.38 L47.92,133.77 L46.16,132.11 L44.44,130.41 L42.75,128.66 L41.11,126.86 L39.52,125.03 L37.97,123.15 L36.46,121.25 L35.01,119.31 L33.62,117.34 L32.28,115.35 L31.00,113.33 L29.77,111.30 L28.61,109.24 L27.52,107.18 L26.49,105.10 L25.52,103.02 L24.63,100.94 L23.80,98.85 L23.04,96.77 L22.36,94.69 L21.75,92.62 L21.21,90.56 L20.75,88.52 L20.37,86.50 L20.06,84.50 L19.83,82.52 L19.67,80.57 L19.59,78.66 L19.59,76.77 L19.67,74.92 L19.83,73.12 L20.06,71.35" fill="none" stroke="#fbf3ef" stroke-width="1.1" opacity="0.9"/>
<path d="M119.91,130.08 L119.59,131.79 L119.19,133.46 L118.72,135.08 L118.18,136.64 L117.56,138.15 L116.86,139.60 L116.10,140.99 L115.27,142.32 L114.36,143.58 L113.39,144.78 L112.35,145.91 L111.24,146.97 L110.07,147.96 L108.84,148.87 L107.56,149.71 L106.21,150.48 L104.81,151.17 L103.35,151.78 L101.84,152.32 L100.29,152.77 L98.68,153.14 L97.04,153.44 L95.35,153.65 L93.62,153.78 L91.86,153.83 L90.06,153.79 L88.23,153.68 L86.37,153.48 L84.49,153.21 L82.59,152.85 L80.66,152.41 L78.73,151.89" fill="none" stroke="#f6f8ea" stroke-width="1.1" opacity="0.9"/>
<g clip-path="url(#cd0)">
<g clip-path="url(#creg)">
<g opacity="0.7"><path d="M63.30,126.00 Q64.80,130.94 65.64,138.36 L67.60,166.00 Q70.20,168.40 72.80,166.00 L74.76,138.36 Q75.60,130.94 77.10,126.00Z" fill="url(#gstem1)"/><path d="M63.30,126.00 Q64.80,130.94 65.64,138.36 L67.60,166.00 Q70.20,168.40 72.80,166.00 L74.76,138.36 Q75.60,130.94 77.10,126.00Z" fill="url(#gstemh)"/></g>
<path d="M21.8,92.6L23.3,84.2L24.9,75.5L26.5,66.7L28.0,57.6L28.6,54.4M25.4,102.9L27.0,94.5L28.6,86.1L30.2,77.5L31.7,68.6L33.3,59.4L34.9,50.2M29.5,110.9L31.1,102.7L32.7,94.5L34.2,86.1L35.8,77.4L37.4,68.2L39.0,58.9L40.5,49.5L40.7,48.2M33.8,117.7L35.4,109.6L37.0,101.6L38.6,93.6L40.1,85.1L41.7,76.0L43.3,66.5L44.8,56.9L46.4,47.4M38.3,123.6L39.9,115.6L41.4,107.8L43.0,100.2L44.6,92.2L46.2,83.2L47.7,73.4L49.3,63.5L50.9,53.8L51.9,47.5M42.9,128.8L44.5,120.9L46.0,113.3L47.6,106.1L49.2,98.9L49.7,96.1L50.3,93.1L50.8,89.8L51.4,86.3L51.9,82.7L52.5,79.0L54.0,68.6L55.6,58.6L57.2,48.9L57.3,48.3M47.6,133.4L49.1,125.6L50.7,118.2L52.3,111.5L52.8,109.4L53.4,107.3L53.9,105.2L54.5,102.9L55.0,100.2L55.6,96.8L56.1,93.0L56.7,89.0L57.2,84.9L57.8,80.9L58.3,76.9L59.9,66.3L61.5,56.3L62.5,49.7M52.3,137.6L53.9,129.8L55.5,122.5L57.1,116.3L57.6,114.5L58.2,113.1L58.7,111.9L59.0,111.4L59.3,110.8L59.5,110.0L59.8,108.9L60.1,107.5L60.4,105.7L60.6,103.6L60.9,101.3L61.2,98.8L61.5,96.3L61.7,93.8L62.0,91.3L62.6,86.6L63.1,82.3L63.7,78.2L65.2,67.3L66.8,57.3L67.7,51.6M57.2,141.3L58.8,133.5L60.3,126.2L61.9,120.4L62.5,119.0L63.0,118.2L63.3,118.1L63.6,118.3L63.8,118.7L64.1,119.3L64.4,119.9L64.7,120.2L64.9,119.6L65.2,117.8L65.5,114.9L65.8,111.3L66.0,107.6L66.3,104.0L66.6,100.6L66.9,97.5L67.1,94.6L67.4,91.9L68.0,87.0L68.5,82.6L69.1,78.4L70.6,67.7L72.2,57.8L72.8,53.9M62.1,144.5L63.7,136.7L65.3,129.5L66.9,123.8L67.4,122.5L68.0,122.0L68.2,122.2L68.5,122.8L68.8,123.8L69.1,125.5L69.3,127.6L69.6,129.6L69.9,130.4L70.2,128.6L70.4,124.5L70.7,119.3L71.0,114.2L71.3,109.6L71.5,105.5L71.8,102.0L72.1,98.7L72.4,95.8L72.9,90.7L73.5,86.1L74.0,81.9L75.6,71.0L77.1,61.0L77.8,56.7M67.2,147.3L68.7,139.5L70.3,132.3L71.9,126.4L72.4,125.0L73.0,124.2L73.3,124.1L73.5,124.3L73.8,124.7L74.1,125.3L74.4,125.9L74.6,126.2L74.9,125.6L75.2,123.8L75.5,120.9L75.7,117.3L76.0,113.6L76.3,110.0L76.6,106.6L76.8,103.5L77.1,100.6L77.4,97.9L77.9,93.0L78.5,88.6L79.0,84.5L80.6,73.7L82.2,63.8L82.8,59.9M72.3,149.6L73.8,141.8L75.4,134.5L77.0,128.3L77.5,126.6L78.1,125.1L78.6,124.0L78.9,123.4L79.2,122.8L79.5,122.0L79.7,121.0L80.0,119.6L80.3,117.8L80.6,115.7L80.8,113.3L81.1,110.8L81.4,108.3L81.6,105.8L81.9,103.4L82.5,98.7L83.0,94.3L83.6,90.2L85.1,79.4L86.7,69.4L87.7,63.6M77.5,151.5L79.0,143.6L80.6,136.2L82.2,129.5L82.7,127.4L83.3,125.4L83.8,123.3L84.4,121.0L84.9,118.2L85.5,114.9L86.0,111.1L86.6,107.1L87.1,103.0L87.7,98.9L88.2,95.0L89.8,84.4L91.3,74.4L92.4,67.8M82.7,152.9L84.3,144.9L85.9,137.4L87.4,130.2L89.0,123.0L89.6,120.2L90.1,117.2L90.7,113.9L91.2,110.4L91.8,106.8L92.3,103.1L93.9,92.7L95.4,82.7L97.0,73.0L97.1,72.4M88.1,153.7L89.7,145.7L91.2,137.9L92.8,130.3L94.4,122.3L96.0,113.3L97.5,103.5L99.1,93.6L100.7,83.9L101.7,77.6M93.6,153.8L95.2,145.7L96.7,137.7L98.3,129.7L99.9,121.2L101.4,112.1L103.0,102.6L104.6,93.0L106.2,83.5M99.3,153.0L100.8,144.8L102.4,136.6L104.0,128.3L105.5,119.5L107.1,110.4L108.7,101.0L110.2,91.6L110.5,90.3M105.1,151.0L106.7,142.7L108.3,134.3L109.8,125.7L111.4,116.7L113.0,107.6L114.5,98.3M111.4,146.8L113.0,138.3L114.5,129.7L116.1,120.8L117.7,111.8L118.2,108.6M41.2,127.0L51.2,133.3L61.1,139.5L71.1,145.4L81.1,151.2L84.6,153.2M33.8,117.7L43.8,124.1L53.8,130.5L63.7,136.7L73.7,142.6L83.6,148.2L93.6,153.8M28.9,109.8L38.9,116.4L48.9,123.1L58.8,129.5L68.8,135.5L78.7,141.2L88.7,146.6L98.7,152.1L100.1,152.8M25.4,102.9L35.4,109.6L45.4,116.4L55.3,123.2L65.3,129.5L75.2,135.2L85.2,140.5L95.2,145.7L105.1,151.0M22.9,96.5L32.9,103.3L42.9,110.3L52.8,117.5L62.8,124.3L72.7,130.1L82.7,135.2L92.7,140.0L102.6,145.1L109.2,148.6M21.2,90.6L31.2,97.4L41.1,104.7L51.1,112.3L61.1,119.9L64.5,122.3L68.0,124.5L71.5,126.3L75.0,128.0L78.5,129.6L82.0,131.1L91.9,135.5L101.9,140.3L111.9,145.4L112.5,145.7M20.1,85.1L30.1,92.0L40.1,99.4L50.0,107.5L53.5,110.6L57.0,113.7L60.5,116.8L64.0,119.6L67.4,122.1L70.9,123.9L74.4,125.3L77.9,126.4L81.4,127.5L84.9,128.7L88.4,129.9L98.3,134.1L108.3,138.9L115.2,142.5M19.6,79.9L29.6,86.9L39.6,94.4L49.5,103.0L53.0,106.4L56.5,110.1L60.0,114.2L61.7,116.2L63.5,118.2L65.2,120.0L66.9,121.5L68.7,122.7L70.4,123.5L72.2,124.0L73.9,124.2L75.7,124.3L77.4,124.4L79.1,124.5L80.9,124.6L84.4,125.1L87.9,126.0L91.3,127.0L101.3,131.0L111.3,135.8L117.2,138.9M19.7,75.0L29.6,82.0L39.6,89.6L49.5,98.5L53.0,102.3L56.5,106.7L58.3,109.2L60.0,112.0L61.7,115.0L63.5,118.2L65.2,121.4L67.0,124.3L68.7,126.3L70.5,127.1L72.2,126.7L73.9,125.8L75.7,124.6L77.4,123.6L79.2,122.8L80.9,122.3L82.7,122.0L84.4,121.9L87.9,122.2L91.4,122.9L94.9,124.0L104.8,128.0L114.8,132.9L118.8,134.9M20.2,70.5L30.2,77.5L40.1,85.1L50.1,94.2L53.6,98.1L57.1,102.8L58.8,105.5L60.5,108.7L62.3,112.4L64.0,116.6L65.8,121.3L67.5,125.9L69.3,129.3L71.0,130.1L72.7,128.6L74.5,126.0L76.2,123.5L78.0,121.4L79.7,120.0L81.5,119.0L83.2,118.4L84.9,118.0L88.4,118.0L91.9,118.6L95.4,119.6L105.4,123.6L115.3,128.4L119.8,130.7M21.2,66.3L31.2,73.2L41.2,80.8L51.1,89.8L54.6,93.5L58.1,97.9L59.8,100.4L61.6,103.2L63.3,106.2L65.1,109.4L66.8,112.6L68.5,115.5L70.3,117.5L72.0,118.3L73.8,117.9L75.5,117.0L77.3,115.8L79.0,114.8L80.7,114.0L82.5,113.5L84.2,113.2L86.0,113.1L89.5,113.4L92.9,114.1L96.4,115.2L106.4,119.2L116.4,124.1L120.3,126.2M22.8,62.3L32.7,69.3L42.7,76.8L52.7,85.4L56.1,88.8L59.6,92.6L63.1,96.6L64.9,98.6L66.6,100.6L68.3,102.4L70.1,104.0L71.8,105.2L73.6,106.0L75.3,106.4L77.1,106.7L78.8,106.8L80.5,106.8L82.3,106.9L84.0,107.1L87.5,107.6L91.0,108.4L94.5,109.5L104.4,113.4L114.4,118.2L120.4,121.3M24.8,58.7L34.8,65.6L44.8,73.0L54.7,81.2L58.2,84.2L61.7,87.3L65.2,90.4L68.7,93.3L72.2,95.7L75.6,97.6L79.1,99.0L82.6,100.1L86.1,101.2L89.6,102.3L93.1,103.6L103.0,107.8L113.0,112.6L119.9,116.1M27.5,55.5L37.5,62.3L47.4,69.5L57.4,77.2L67.3,84.8L70.8,87.2L74.3,89.3L77.8,91.2L81.3,92.9L84.8,94.5L88.3,96.0L98.2,100.3L108.2,105.1L118.1,110.3L118.8,110.6M30.8,52.6L40.8,59.4L50.7,66.4L60.7,73.6L70.6,80.4L80.6,86.2L90.6,91.3L100.5,96.1L110.5,101.2L117.1,104.7M34.9,50.2L44.8,56.9L54.8,63.7L64.8,70.5L74.7,76.8L84.7,82.5L94.6,87.8L104.6,93.0L114.5,98.3M39.9,48.4L49.9,55.0L59.9,61.6L69.8,68.0L79.8,74.1L89.7,79.7L99.7,85.2L109.7,90.6L111.1,91.4M46.4,47.4L56.4,53.9L66.3,60.3L76.3,66.5L86.2,72.3L96.2,78.0L106.2,83.5M55.4,48.0L65.3,54.3L75.3,60.4L85.2,66.4L95.2,72.2L98.8,74.2" fill="none" stroke="#60584c" stroke-width="0.5" opacity="0.2"/>
</g></g>
<path d="M77.60,56.10 C77.37,58.42 76.75,64.68 76.20,70.00 C75.65,75.32 74.90,82.33 74.30,88.00 C73.70,93.67 72.98,100.00 72.60,104.00 C72.22,108.00 72.10,110.67 72.00,112.00" fill="none" stroke="#141a08" stroke-width="1.0" opacity="0.92"/>
<path d="M72.30,107.40 C73.58,106.93 76.90,105.43 80.00,104.60 C83.10,103.77 89.08,102.77 90.90,102.40" fill="none" stroke="#141a08" stroke-width="0.6" opacity="0.6"/>
<path d="M67.30,123.50 C66.83,125.25 65.42,130.50 64.50,134.00 C63.58,137.50 62.25,142.75 61.80,144.50" fill="none" stroke="#555" stroke-width="0.6" opacity="0.6"/>
<ellipse cx="69.7" cy="121" rx="13.5" ry="7.4" fill="#f09030" opacity="0.8"/>
<path d="M82.00,121.60 C83.67,121.70 89.00,121.90 92.00,122.20 C95.00,122.50 97.33,122.83 100.00,123.40 C102.67,123.97 105.67,124.97 108.00,125.60 C110.33,126.23 113.00,126.93 114.00,127.20" fill="none" stroke="#f2a040" stroke-width="1.8"/>
<path d="M19.80,71.20 C21.17,72.10 25.18,74.78 28.00,76.60 C30.82,78.42 33.45,79.73 36.70,82.10 C39.95,84.47 44.25,87.68 47.50,90.80 C50.75,93.92 54.03,97.52 56.20,100.80 C58.37,104.08 59.43,107.70 60.50,110.50 C61.57,113.30 61.68,115.35 62.60,117.60 C63.52,119.85 65.43,122.93 66.00,124.00" fill="none" stroke="#9adcf0" stroke-width="3.1"/><path d="M19.80,71.20 C21.17,72.10 25.18,74.78 28.00,76.60 C30.82,78.42 33.45,79.73 36.70,82.10 C39.95,84.47 44.25,87.68 47.50,90.80 C50.75,93.92 54.03,97.52 56.20,100.80 C58.37,104.08 59.43,107.70 60.50,110.50 C61.57,113.30 61.68,115.35 62.60,117.60 C63.52,119.85 65.43,122.93 66.00,124.00" fill="none" stroke="#0d5484" stroke-width="1.8" transform="translate(0.1,-0.2)"/>
<path d="M78.00,123.40 C78.50,122.80 79.68,120.78 81.00,119.80 C82.32,118.82 83.85,117.82 85.90,117.50 C87.95,117.18 91.03,117.52 93.30,117.90 C95.57,118.28 97.43,119.03 99.50,119.80 C101.57,120.57 103.63,121.58 105.70,122.50 C107.77,123.42 109.58,124.07 111.90,125.30 C114.22,126.53 118.32,129.13 119.60,129.90" fill="none" stroke="#9adcf0" stroke-width="3.1"/><path d="M78.00,123.40 C78.50,122.80 79.68,120.78 81.00,119.80 C82.32,118.82 83.85,117.82 85.90,117.50 C87.95,117.18 91.03,117.52 93.30,117.90 C95.57,118.28 97.43,119.03 99.50,119.80 C101.57,120.57 103.63,121.58 105.70,122.50 C107.77,123.42 109.58,124.07 111.90,125.30 C114.22,126.53 118.32,129.13 119.60,129.90" fill="none" stroke="#0d5484" stroke-width="1.8" transform="translate(0.1,-0.2)"/>
<ellipse cx="71.7" cy="119.2" rx="9.3" ry="7.4" fill="url(#gsphere)"/>
<path d="M57.2,123.5 Q69,131.5 82.4,123.8" fill="none" stroke="#d89a30" stroke-width="1.6" opacity="0.8"/>
<path d="M72.40,112.50 C72.10,113.75 71.12,117.58 70.60,120.00 C70.08,122.42 69.52,125.83 69.30,127.00" fill="none" stroke="#141a08" stroke-width="0.5" opacity="0.5"/>
<circle cx="116" cy="125.1" r="3.0" fill="url(#gball_o)"/>
<text x="79.60" y="145.30" font-size="15.6" text-anchor="start" fill="#ff6a13"  stroke="#ff6a13" stroke-width="0.32">Tunneling</text>
<g opacity="1.0"><path d="M201.50,128.00 Q203.50,132.54 204.10,139.34 L205.50,164.60 Q208.20,167.00 210.90,164.60 L212.30,139.34 Q212.90,132.54 214.90,128.00Z" fill="url(#gstem)"/><path d="M201.50,128.00 Q203.50,132.54 204.10,139.34 L205.50,164.60 Q208.20,167.00 210.90,164.60 L212.30,139.34 Q212.90,132.54 214.90,128.00Z" fill="url(#gstemh)"/></g>
<g clip-path="url(#cd1)">
<path d="M258.00,127.00 L258.33,124.82 L258.52,122.56 L258.57,120.24 L258.49,117.86 L258.26,115.43 L257.90,112.96 L257.40,110.45 L256.77,107.90 L256.00,105.33 L255.10,102.75 L254.07,100.15 L252.92,97.55 L251.64,94.96 L250.24,92.37 L248.73,89.81 L247.10,87.27 L245.37,84.76 L243.54,82.29 L241.61,79.86 L239.58,77.49 L237.47,75.18 L235.28,72.93 L233.01,70.76 L230.68,68.66 L228.28,66.64 L225.83,64.72 L223.33,62.88 L220.78,61.15 L218.21,59.52 L215.60,58.00 L212.97,56.59 L210.33,55.30 L207.68,54.12 L205.04,53.07 L202.40,52.15 L199.78,51.35 L197.18,50.69 L194.61,50.16 L192.07,49.76 L189.58,49.49 L187.14,49.36 L184.76,49.37 L182.44,49.52 L180.19,49.80 L178.02,50.21 L175.93,50.76 L173.93,51.44 L172.02,52.25 L170.21,53.19 L168.50,54.25 L166.90,55.44 L165.41,56.74 L164.04,58.17 L162.80,59.70 L161.67,61.34 L160.67,63.09 L159.80,64.93 L159.07,66.87 L158.47,68.89 L158.00,71.00 L157.67,73.18 L157.48,75.44 L157.43,77.76 L157.51,80.14 L157.74,82.57 L158.10,85.04 L158.60,87.55 L159.23,90.10 L160.00,92.67 L160.90,95.25 L161.93,97.85 L163.08,100.45 L164.36,103.04 L165.76,105.63 L167.27,108.19 L168.90,110.73 L170.63,113.24 L172.46,115.71 L174.39,118.14 L176.42,120.51 L178.53,122.82 L180.72,125.07 L182.99,127.24 L185.32,129.34 L187.72,131.36 L190.17,133.28 L192.67,135.12 L195.22,136.85 L197.79,138.48 L200.40,140.00 L203.03,141.41 L205.67,142.70 L208.32,143.88 L210.96,144.93 L213.60,145.85 L216.22,146.65 L218.82,147.31 L221.39,147.84 L223.93,148.24 L226.42,148.51 L228.86,148.64 L231.24,148.63 L233.56,148.48 L235.81,148.20 L237.98,147.79 L240.07,147.24 L242.07,146.56 L243.98,145.75 L245.79,144.81 L247.50,143.75 L249.10,142.56 L250.59,141.26 L251.96,139.83 L253.20,138.30 L254.33,136.66 L255.33,134.91 L256.20,133.07 L256.93,131.13 L257.53,129.11Z" fill="url(#gd1)"/>
<path d="M239.00,118.72 L239.32,113.43 L238.44,107.67 L236.39,101.67 L233.25,95.66 L229.14,89.87 L224.22,84.52 L218.67,79.82 L212.71,75.94 L206.57,73.04 L200.49,71.23 L194.70,70.58 L189.41,71.11 L184.84,72.81 L181.16,75.60 L178.51,79.38 L177.00,84.00 L176.68,89.30 L177.56,95.05 L179.61,101.05 L182.75,107.06 L186.86,112.85 L191.78,118.20 L197.33,122.91 L203.29,126.78 L209.43,129.68 L215.51,131.49 L221.30,132.14 L226.59,131.61 L231.16,129.92 L234.84,127.13 L237.49,123.35Z" fill="#3fae00" opacity="0.040"/>
<path d="M235.50,117.53 L235.79,112.84 L235.01,107.73 L233.19,102.41 L230.40,97.08 L226.75,91.94 L222.39,87.19 L217.46,83.02 L212.18,79.58 L206.73,77.01 L201.34,75.41 L196.20,74.83 L191.51,75.30 L187.46,76.80 L184.19,79.28 L181.84,82.63 L180.50,86.73 L180.21,91.43 L180.99,96.54 L182.81,101.86 L185.60,107.19 L189.25,112.33 L193.61,117.07 L198.54,121.25 L203.82,124.68 L209.27,127.26 L214.66,128.86 L219.80,129.44 L224.49,128.97 L228.54,127.47 L231.81,124.99 L234.16,121.64Z" fill="#3fae00" opacity="0.050"/>
<path d="M232.00,116.55 L232.25,112.46 L231.57,108.00 L229.98,103.35 L227.55,98.70 L224.37,94.22 L220.55,90.07 L216.26,86.43 L211.65,83.43 L206.90,81.19 L202.19,79.79 L197.70,79.28 L193.61,79.69 L190.07,81.00 L187.22,83.16 L185.17,86.09 L184.00,89.67 L183.75,93.77 L184.43,98.23 L186.02,102.87 L188.45,107.53 L191.63,112.01 L195.45,116.15 L199.74,119.79 L204.35,122.79 L209.10,125.04 L213.81,126.44 L218.30,126.94 L222.39,126.53 L225.93,125.22 L228.78,123.06 L230.83,120.13Z" fill="#3fae00" opacity="0.060"/>
<path d="M229.00,115.95 L229.22,112.36 L228.62,108.46 L227.23,104.40 L225.11,100.33 L222.32,96.40 L218.99,92.78 L215.23,89.59 L211.19,86.97 L207.03,85.00 L202.91,83.78 L198.99,83.33 L195.41,83.69 L192.31,84.84 L189.82,86.73 L188.03,89.29 L187.00,92.43 L186.78,96.01 L187.38,99.91 L188.77,103.97 L190.89,108.05 L193.68,111.97 L197.01,115.59 L200.77,118.78 L204.81,121.41 L208.97,123.37 L213.09,124.60 L217.01,125.04 L220.59,124.68 L223.69,123.53 L226.18,121.64 L227.97,119.08Z" fill="#3fae00" opacity="0.070"/>
<path d="M226.50,115.67 L226.69,112.51 L226.17,109.08 L224.94,105.50 L223.07,101.91 L220.62,98.45 L217.68,95.26 L214.37,92.45 L210.81,90.14 L207.15,88.41 L203.52,87.33 L200.06,86.94 L196.91,87.26 L194.18,88.27 L191.98,89.94 L190.40,92.19 L189.50,94.95 L189.31,98.11 L189.83,101.55 L191.06,105.13 L192.93,108.71 L195.38,112.17 L198.32,115.36 L201.63,118.17 L205.19,120.48 L208.85,122.21 L212.48,123.29 L215.94,123.68 L219.09,123.36 L221.82,122.35 L224.02,120.69 L225.60,118.43Z" fill="#3fae00" opacity="0.080"/>
<path d="M224.50,115.66 L224.67,112.84 L224.20,109.78 L223.11,106.59 L221.44,103.39 L219.25,100.30 L216.63,97.46 L213.68,94.95 L210.51,92.89 L207.24,91.35 L204.00,90.38 L200.92,90.04 L198.11,90.32 L195.67,91.22 L193.72,92.71 L192.31,94.72 L191.50,97.18 L191.33,100.00 L191.80,103.06 L192.89,106.25 L194.56,109.45 L196.75,112.54 L199.37,115.38 L202.32,117.89 L205.49,119.95 L208.76,121.49 L212.00,122.46 L215.08,122.80 L217.89,122.52 L220.33,121.62 L222.28,120.13 L223.69,118.12Z" fill="#3fae00" opacity="0.090"/>
<path d="M222.50,115.89 L222.65,113.42 L222.24,110.73 L221.28,107.92 L219.81,105.11 L217.89,102.40 L215.59,99.90 L212.99,97.70 L210.20,95.88 L207.33,94.53 L204.49,93.68 L201.78,93.38 L199.31,93.62 L197.17,94.42 L195.45,95.72 L194.21,97.49 L193.50,99.65 L193.35,102.13 L193.76,104.82 L194.72,107.63 L196.19,110.44 L198.11,113.15 L200.41,115.65 L203.01,117.85 L205.80,119.66 L208.67,121.02 L211.51,121.87 L214.22,122.17 L216.69,121.92 L218.83,121.13 L220.55,119.83 L221.79,118.06Z" fill="#3fae00" opacity="0.100"/>
<path d="M221.00,116.28 L221.14,114.06 L220.77,111.64 L219.91,109.13 L218.59,106.61 L216.87,104.18 L214.80,101.93 L212.47,99.96 L209.98,98.34 L207.40,97.12 L204.85,96.36 L202.42,96.09 L200.20,96.31 L198.29,97.02 L196.75,98.19 L195.64,99.78 L195.00,101.72 L194.86,103.94 L195.23,106.35 L196.09,108.87 L197.41,111.39 L199.13,113.82 L201.20,116.06 L203.53,118.03 L206.02,119.66 L208.60,120.87 L211.15,121.63 L213.58,121.91 L215.80,121.68 L217.71,120.97 L219.25,119.80 L220.36,118.22Z" fill="#3fae00" opacity="0.100"/>
<clipPath id="clip1"><path d="M220.00,116.66 L220.14,115.31 L220.06,113.88 L219.78,112.38 L219.30,110.84 L218.63,109.28 L217.78,107.73 L216.75,106.22 L215.58,104.77 L214.28,103.42 L212.87,102.17 L211.37,101.06 L209.82,100.10 L208.24,99.30 L206.66,98.69 L205.09,98.27 L203.58,98.05 L202.14,98.04 L200.80,98.23 L199.59,98.61 L198.52,99.20 L197.61,99.96 L196.88,100.90 L196.34,101.99 L196.00,103.22 L195.86,104.56 L195.94,105.99 L196.22,107.49 L196.70,109.04 L197.37,110.59 L198.22,112.14 L199.25,113.65 L200.42,115.10 L201.72,116.45 L203.13,117.70 L204.63,118.81 L206.18,119.78 L207.76,120.57 L209.34,121.18 L210.91,121.60 L212.42,121.82 L213.86,121.83 L215.20,121.65 L216.41,121.26 L217.48,120.68 L218.39,119.91 L219.12,118.97 L219.66,117.88Z"/></clipPath>
<g clip-path="url(#clip1)">
<path d="M219.75,116.77 L219.87,114.76 L219.54,112.58 L218.76,110.31 L217.57,108.03 L216.01,105.83 L214.15,103.80 L212.04,102.02 L209.79,100.55 L207.46,99.45 L205.15,98.77 L202.96,98.52 L200.95,98.72 L199.22,99.36 L197.83,100.42 L196.82,101.85 L196.25,103.61 L196.13,105.61 L196.46,107.80 L197.24,110.07 L198.43,112.35 L199.99,114.54 L201.85,116.57 L203.96,118.35 L206.21,119.82 L208.54,120.92 L210.85,121.61 L213.04,121.85 L215.05,121.65 L216.78,121.01 L218.17,119.95 L219.18,118.52Z" fill="#4ab800" opacity="0.12"/>
<path d="M219.22,117.03 L219.33,115.12 L219.02,113.03 L218.27,110.86 L217.14,108.69 L215.65,106.59 L213.87,104.66 L211.86,102.96 L209.70,101.55 L207.48,100.50 L205.28,99.85 L203.19,99.61 L201.27,99.81 L199.62,100.42 L198.29,101.43 L197.33,102.80 L196.78,104.47 L196.67,106.38 L196.98,108.47 L197.73,110.64 L198.86,112.81 L200.35,114.91 L202.13,116.84 L204.14,118.55 L206.30,119.95 L208.52,121.00 L210.72,121.65 L212.81,121.89 L214.73,121.70 L216.38,121.08 L217.71,120.07 L218.67,118.71Z" fill="#42ab03" opacity="0.13"/>
<path d="M218.68,117.33 L218.79,115.51 L218.49,113.53 L217.79,111.46 L216.70,109.39 L215.29,107.39 L213.59,105.55 L211.68,103.93 L209.62,102.59 L207.51,101.59 L205.41,100.97 L203.41,100.74 L201.59,100.93 L200.02,101.51 L198.75,102.47 L197.84,103.77 L197.32,105.37 L197.21,107.19 L197.51,109.18 L198.21,111.24 L199.30,113.32 L200.71,115.31 L202.41,117.16 L204.32,118.78 L206.38,120.11 L208.49,121.11 L210.59,121.73 L212.59,121.96 L214.41,121.78 L215.98,121.19 L217.25,120.23 L218.16,118.93Z" fill="#3da206" opacity="0.16"/>
<path d="M218.15,117.67 L218.26,115.94 L217.97,114.06 L217.30,112.09 L216.27,110.12 L214.92,108.23 L213.31,106.48 L211.49,104.94 L209.54,103.67 L207.53,102.72 L205.54,102.13 L203.64,101.91 L201.91,102.09 L200.42,102.64 L199.21,103.55 L198.35,104.79 L197.85,106.31 L197.74,108.04 L198.03,109.92 L198.70,111.89 L199.73,113.86 L201.08,115.75 L202.69,117.51 L204.51,119.05 L206.46,120.31 L208.47,121.26 L210.46,121.86 L212.36,122.07 L214.09,121.90 L215.58,121.34 L216.79,120.43 L217.65,119.19Z" fill="#389a09" opacity="0.19"/>
<path d="M217.62,118.06 L217.72,116.42 L217.44,114.63 L216.81,112.77 L215.83,110.91 L214.56,109.11 L213.03,107.45 L211.31,105.99 L209.46,104.79 L207.56,103.89 L205.67,103.33 L203.87,103.12 L202.23,103.29 L200.82,103.81 L199.67,104.68 L198.85,105.85 L198.38,107.29 L198.28,108.93 L198.56,110.72 L199.19,112.58 L200.17,114.44 L201.44,116.24 L202.97,117.90 L204.69,119.36 L206.54,120.56 L208.44,121.46 L210.33,122.02 L212.13,122.22 L213.77,122.06 L215.18,121.53 L216.33,120.67 L217.15,119.49Z" fill="#34920b" opacity="0.22"/>
<path d="M217.08,118.49 L217.18,116.94 L216.92,115.25 L216.32,113.49 L215.40,111.73 L214.19,110.03 L212.75,108.47 L211.13,107.09 L209.38,105.95 L207.58,105.10 L205.80,104.57 L204.10,104.38 L202.55,104.54 L201.21,105.03 L200.14,105.85 L199.36,106.96 L198.92,108.31 L198.82,109.86 L199.08,111.55 L199.68,113.31 L200.60,115.07 L201.81,116.77 L203.25,118.34 L204.87,119.71 L206.62,120.85 L208.42,121.70 L210.20,122.23 L211.90,122.42 L213.45,122.26 L214.79,121.77 L215.86,120.95 L216.64,119.84Z" fill="#308b0e" opacity="0.26"/>
<path d="M216.55,118.96 L216.64,117.50 L216.40,115.92 L215.83,114.26 L214.96,112.60 L213.83,111.01 L212.47,109.53 L210.94,108.23 L209.30,107.17 L207.61,106.37 L205.93,105.87 L204.33,105.69 L202.87,105.83 L201.61,106.30 L200.60,107.07 L199.87,108.11 L199.45,109.39 L199.36,110.85 L199.60,112.44 L200.17,114.09 L201.04,115.75 L202.17,117.35 L203.53,118.82 L205.06,120.12 L206.70,121.19 L208.39,121.99 L210.07,122.49 L211.67,122.67 L213.13,122.52 L214.39,122.05 L215.40,121.28 L216.13,120.24Z" fill="#2c8410" opacity="0.30"/>
<path d="M216.02,119.49 L216.10,118.12 L215.87,116.63 L215.34,115.08 L214.53,113.53 L213.47,112.03 L212.19,110.65 L210.76,109.43 L209.22,108.43 L207.63,107.68 L206.06,107.21 L204.56,107.04 L203.19,107.18 L202.01,107.62 L201.06,108.34 L200.38,109.32 L199.98,110.51 L199.90,111.88 L200.13,113.37 L200.66,114.92 L201.47,116.48 L202.53,117.97 L203.81,119.36 L205.24,120.57 L206.78,121.58 L208.37,122.33 L209.94,122.79 L211.44,122.96 L212.81,122.82 L213.99,122.39 L214.94,121.67 L215.62,120.69Z" fill="#287d12" opacity="0.35"/>
<path d="M215.48,120.07 L215.56,118.79 L215.35,117.40 L214.85,115.96 L214.10,114.50 L213.10,113.11 L211.91,111.81 L210.58,110.68 L209.14,109.74 L207.66,109.04 L206.19,108.61 L204.79,108.45 L203.51,108.58 L202.41,108.99 L201.52,109.66 L200.88,110.57 L200.52,111.69 L200.44,112.97 L200.65,114.36 L201.15,115.80 L201.90,117.26 L202.90,118.65 L204.09,119.95 L205.42,121.08 L206.86,122.02 L208.34,122.72 L209.81,123.15 L211.21,123.31 L212.49,123.18 L213.59,122.77 L214.48,122.10 L215.12,121.19Z" fill="#247614" opacity="0.39"/>
<path d="M214.95,120.70 L215.02,119.52 L214.83,118.23 L214.37,116.88 L213.66,115.53 L212.74,114.23 L211.64,113.04 L210.39,111.98 L209.06,111.11 L207.68,110.46 L206.32,110.06 L205.02,109.91 L203.83,110.03 L202.81,110.41 L201.98,111.03 L201.39,111.88 L201.05,112.92 L200.98,114.11 L201.17,115.40 L201.63,116.74 L202.34,118.09 L203.26,119.39 L204.36,120.59 L205.61,121.64 L206.94,122.51 L208.32,123.16 L209.68,123.57 L210.98,123.71 L212.17,123.59 L213.19,123.21 L214.02,122.59 L214.61,121.74Z" fill="#207016" opacity="0.44"/>
<path d="M214.42,121.39 L214.48,120.29 L214.30,119.10 L213.88,117.86 L213.23,116.62 L212.38,115.42 L211.36,114.31 L210.21,113.34 L208.98,112.53 L207.70,111.93 L206.45,111.56 L205.25,111.42 L204.15,111.53 L203.21,111.88 L202.45,112.46 L201.90,113.24 L201.58,114.20 L201.52,115.30 L201.70,116.49 L202.12,117.73 L202.77,118.97 L203.62,120.17 L204.64,121.28 L205.79,122.25 L207.02,123.06 L208.30,123.66 L209.55,124.03 L210.75,124.17 L211.85,124.06 L212.79,123.71 L213.55,123.13 L214.10,122.35Z" fill="#1d6918" opacity="0.49"/>
<path d="M213.88,122.12 L213.94,121.12 L213.78,120.03 L213.39,118.89 L212.79,117.75 L212.01,116.65 L211.08,115.63 L210.02,114.74 L208.89,114.00 L207.73,113.45 L206.57,113.11 L205.47,112.99 L204.47,113.09 L203.61,113.41 L202.91,113.94 L202.40,114.66 L202.12,115.53 L202.06,116.54 L202.22,117.63 L202.61,118.77 L203.21,119.91 L203.99,121.01 L204.92,122.03 L205.98,122.92 L207.11,123.65 L208.27,124.20 L209.43,124.55 L210.53,124.67 L211.53,124.57 L212.39,124.25 L213.09,123.72 L213.60,123.00Z" fill="#19631a" opacity="0.55"/>
<path d="M213.35,122.90 L213.41,121.99 L213.25,121.00 L212.90,119.96 L212.36,118.92 L211.65,117.92 L210.80,117.00 L209.84,116.19 L208.81,115.52 L207.75,115.02 L206.70,114.71 L205.70,114.60 L204.79,114.69 L204.00,114.98 L203.37,115.46 L202.91,116.11 L202.65,116.91 L202.59,117.83 L202.75,118.82 L203.10,119.85 L203.64,120.89 L204.35,121.89 L205.20,122.81 L206.16,123.63 L207.19,124.29 L208.25,124.79 L209.30,125.11 L210.30,125.22 L211.21,125.13 L212.00,124.84 L212.63,124.35 L213.09,123.70Z" fill="#165d1c" opacity="0.60"/>
<path d="M212.82,123.72 L212.87,122.90 L212.73,122.00 L212.41,121.07 L211.92,120.14 L211.28,119.24 L210.52,118.41 L209.66,117.67 L208.73,117.07 L207.78,116.62 L206.83,116.34 L205.93,116.24 L205.11,116.32 L204.40,116.59 L203.83,117.02 L203.42,117.61 L203.18,118.32 L203.13,119.15 L203.27,120.04 L203.59,120.97 L204.08,121.91 L204.72,122.81 L205.48,123.64 L206.34,124.37 L207.27,124.97 L208.22,125.42 L209.17,125.70 L210.07,125.80 L210.89,125.72 L211.60,125.46 L212.17,125.03 L212.58,124.44Z" fill="#12571e" opacity="0.66"/>
<path d="M212.28,124.56 L212.33,123.83 L212.21,123.03 L211.92,122.20 L211.49,121.37 L210.92,120.57 L210.24,119.83 L209.47,119.18 L208.65,118.65 L207.80,118.25 L206.96,118.00 L206.16,117.91 L205.43,117.98 L204.80,118.21 L204.29,118.60 L203.93,119.12 L203.72,119.76 L203.67,120.49 L203.79,121.29 L204.08,122.11 L204.51,122.95 L205.08,123.75 L205.76,124.49 L206.53,125.13 L207.35,125.67 L208.20,126.07 L209.04,126.32 L209.84,126.41 L210.57,126.34 L211.20,126.10 L211.71,125.72 L212.07,125.20Z" fill="#0f5120" opacity="0.72"/>
<path d="M211.75,125.40 L211.79,124.75 L211.68,124.06 L211.43,123.33 L211.05,122.61 L210.56,121.91 L209.96,121.26 L209.29,120.69 L208.57,120.22 L207.83,119.87 L207.09,119.65 L206.39,119.57 L205.75,119.64 L205.20,119.84 L204.75,120.18 L204.43,120.64 L204.25,121.20 L204.21,121.84 L204.32,122.53 L204.57,123.26 L204.95,123.98 L205.44,124.69 L206.04,125.33 L206.71,125.90 L207.43,126.37 L208.17,126.72 L208.91,126.94 L209.61,127.02 L210.25,126.95 L210.80,126.75 L211.25,126.41 L211.57,125.95Z" fill="#0c4c22" opacity="0.78"/>
</g>
<path d="M159.7,91.7L161.2,83.8L162.7,75.7L164.2,67.4L165.8,59.0L166.3,55.9M163.4,101.2L165.0,93.5L166.5,85.6L168.0,77.6L169.5,69.2L171.0,60.7L172.6,52.0M167.6,108.7L169.1,101.1L170.6,93.5L172.1,85.7L173.7,77.5L175.2,68.9L176.7,60.2L178.2,51.4L178.4,50.1M171.9,115.0L173.4,107.5L175.0,100.1L176.5,92.6L178.0,84.8L179.5,76.2L181.0,67.3L182.6,58.3L184.1,49.4M176.4,120.5L177.9,113.1L179.5,105.9L181.0,98.8L182.5,91.5L184.0,83.1L185.5,73.9L187.1,64.5L188.6,55.4L189.6,49.5M181.0,125.4L182.6,118.0L184.1,111.0L185.6,104.4L187.1,97.8L187.6,95.3L188.2,92.4L188.7,89.3L189.2,86.0L189.8,82.6L190.3,79.1L191.8,69.3L193.3,59.9L194.9,50.8L195.0,50.2M185.8,129.7L187.3,122.4L188.8,115.6L190.3,109.5L190.8,107.6L191.4,105.7L191.9,103.8L192.4,101.7L193.0,99.2L193.5,96.0L194.0,92.5L194.6,88.6L195.1,84.7L195.6,80.9L196.2,77.2L197.7,67.1L199.2,57.7L200.2,51.5M190.6,133.6L192.1,126.3L193.6,119.6L195.1,114.0L195.6,112.4L196.2,111.2L196.7,110.3L197.0,109.8L197.2,109.3L197.5,108.6L197.8,107.7L198.0,106.4L198.3,104.7L198.6,102.7L198.8,100.4L199.1,98.0L199.4,95.6L199.6,93.2L199.9,90.9L200.4,86.4L201.0,82.2L201.5,78.3L203.0,68.1L204.5,58.6L205.4,53.2M195.4,137.0L197.0,129.8L198.5,123.1L200.0,117.8L200.5,116.6L201.1,116.1L201.3,116.1L201.6,116.3L201.9,116.8M204.0,106.6L204.3,103.1L204.5,99.8L204.8,96.8L205.1,94.0L205.3,91.4L205.9,86.7L206.4,82.5L206.9,78.5L208.4,68.4L210.0,59.0L210.6,55.4M200.4,140.0L201.9,132.8L203.4,126.2L205.0,121.0L205.5,119.9L206.0,119.7L206.3,119.9L206.6,120.6M209.5,104.5L209.7,101.0L210.0,97.9L210.3,95.1L210.8,90.1L211.3,85.8L211.9,81.8L213.4,71.5L214.9,62.1L215.6,58.0M205.4,142.6L207.0,135.4L208.5,128.7L210.0,123.4L210.5,122.2L211.1,121.7L211.3,121.7L211.6,121.9L211.9,122.4M214.0,112.2L214.3,108.7L214.5,105.4L214.8,102.4L215.1,99.6L215.3,97.0L215.9,92.3L216.4,88.1L216.9,84.1L218.4,74.0L220.0,64.6L220.6,61.0M210.6,144.8L212.1,137.5L213.6,130.8L215.1,125.2L215.6,123.6L216.2,122.4L216.7,121.5L217.0,121.0L217.2,120.5L217.5,119.8L217.8,118.9L218.0,117.6L218.3,115.9L218.6,113.9L218.8,111.6L219.1,109.2L219.4,106.8L219.6,104.4L219.9,102.1L220.4,97.6L221.0,93.4L221.5,89.5L223.0,79.3L224.5,69.8L225.4,64.4M215.8,146.5L217.3,139.2L218.8,132.4L220.3,126.3L220.8,124.4L221.4,122.5L221.9,120.6L222.4,118.5L223.0,116.0L223.5,112.8L224.0,109.3L224.6,105.4L225.1,101.5L225.6,97.7L226.2,94.0L227.7,83.9L229.2,74.5L230.2,68.3M221.0,147.8L222.6,140.4L224.1,133.4L225.6,126.8L227.1,120.2L227.6,117.7L228.2,114.8L228.7,111.7L229.2,108.4L229.8,105.0L230.3,101.5L231.8,91.7L233.3,82.3L234.9,73.2L235.0,72.6M226.4,148.5L227.9,141.1L229.5,133.9L231.0,126.8L232.5,119.5L234.0,111.1L235.5,101.9L237.1,92.5L238.6,83.4L239.6,77.5M231.9,148.6L233.4,141.1L235.0,133.7L236.5,126.2L238.0,118.4L239.5,109.8L241.0,100.9L242.6,91.9L244.1,83.0M237.6,147.9L239.1,140.3L240.6,132.7L242.1,124.9L243.7,116.7L245.2,108.1L246.7,99.4L248.2,90.6L248.4,89.3M243.4,146.0L245.0,138.3L246.5,130.4L248.0,122.4L249.5,114.0L251.0,105.5L252.6,96.8M249.7,142.1L251.2,134.2L252.7,126.1L254.2,117.8L255.8,109.4L256.3,106.3M179.4,123.7L189.4,129.6L199.4,135.3L209.4,140.9L219.4,146.2L223.0,148.1M171.9,115.0L181.9,121.1L191.9,127.0L201.9,132.8L211.9,138.2L221.9,143.5L231.9,148.6M167.0,107.7L177.0,113.9L187.0,120.1L197.0,126.1L207.0,131.7L217.0,137.0L227.0,142.0L237.0,147.0L238.4,147.7M163.4,101.2L173.4,107.5L183.4,113.9L193.4,120.2L203.4,126.2L213.4,131.4L223.4,136.3L233.4,141.1L243.4,146.0M160.9,95.3L170.9,101.6L180.9,108.2L190.9,115.0L200.9,121.4L210.9,126.8L220.9,131.4L230.9,135.9L240.9,140.5L247.5,143.7M159.1,89.7L169.1,96.2L179.1,103.0L189.1,110.2L199.1,117.4L202.6,119.6L206.1,121.6L209.6,123.4L213.1,124.9L216.6,126.3L220.1,127.7L230.1,131.6L240.1,136.0L250.1,140.7L250.8,141.1M158.0,84.6L168.0,91.1L178.0,98.1L188.0,105.8L191.5,108.7L195.0,111.7L198.5,114.6L202.0,117.3L205.5,119.6L209.0,121.3L212.5,122.5L216.0,123.5L219.5,124.5L223.0,125.5L226.5,126.6L236.5,130.3L246.5,134.7L253.4,138.0M157.5,79.8L167.5,86.3L177.5,93.4L187.5,101.6L191.0,104.9L194.5,108.5L198.0,112.3L199.7,114.3L201.5,116.2L203.2,117.9L205.0,119.4L206.7,120.5L208.5,121.3L210.2,121.7L212.0,121.8L213.7,121.9L215.5,121.8L217.2,121.9L219.0,121.9L222.5,122.3L226.0,123.0L229.5,123.9L239.5,127.4L249.5,131.8L255.5,134.6M157.5,75.2L167.5,81.8L177.5,89.0L187.5,97.5L191.0,101.1L194.5,105.4L196.2,107.8L198.0,110.5L199.7,113.4M213.7,122.5L215.5,121.4L217.2,120.5L219.0,119.9L220.7,119.5L222.5,119.3L226.0,119.5L229.5,120.1L233.0,121.0L243.0,124.6L253.0,129.1L257.0,131.0M158.0,71.0L168.0,77.6L178.0,84.8L188.0,93.4L191.5,97.2L195.0,101.7L196.8,104.4L198.5,107.5M217.8,118.0L219.5,116.9L221.2,116.2L223.0,115.8L226.5,115.7L230.0,116.1L233.5,116.9L243.5,120.5L253.5,124.9L258.0,127.0M159.0,67.0L169.0,73.6L179.0,80.8L189.0,89.3L192.5,92.9L196.0,97.2L197.8,99.6L199.5,102.3L201.3,105.2M215.3,114.3L217.0,113.2L218.8,112.3L220.5,111.7L222.3,111.3L224.0,111.1L227.5,111.3L231.0,111.9L234.5,112.8L244.5,116.4L254.5,120.9L258.5,122.8M160.5,63.4L170.5,69.9L180.5,77.0L190.5,85.2L194.0,88.5L197.5,92.1L201.0,95.9L202.8,97.9L204.5,99.8L206.3,101.5L208.0,103.0L209.8,104.1L211.5,104.9L213.3,105.3L215.0,105.4L216.8,105.5L218.5,105.4L220.3,105.5L222.0,105.5L225.5,105.9L229.0,106.6L232.5,107.5L242.5,111.0L252.5,115.4L258.5,118.2M162.6,60.0L172.6,66.5L182.6,73.5L192.6,81.2L196.1,84.1L199.6,87.1L203.1,90.0L206.6,92.7L210.1,95.0L213.6,96.7L217.1,97.9L220.6,98.9L224.1,99.9L227.6,100.9L231.1,102.0L241.1,105.7L251.1,110.1L258.0,113.4M165.2,56.9L175.2,63.4L185.2,70.2L195.2,77.4L205.2,84.6L208.7,86.8L212.2,88.8L215.7,90.6L219.2,92.1L222.7,93.5L226.2,94.9L236.2,98.8L246.2,103.2L256.2,107.9L256.9,108.3M168.5,54.3L178.5,60.6L188.5,67.2L198.5,74.0L208.5,80.4L218.5,85.8L228.5,90.4L238.5,94.9L248.5,99.5L255.1,102.7M172.6,52.0L182.6,58.3L192.6,64.7L202.6,71.0L212.6,77.0L222.6,82.2L232.6,87.1L242.6,91.9L252.6,96.8M177.6,50.3L187.6,56.5L197.6,62.7L207.6,68.7L217.6,74.3L227.6,79.6L237.6,84.6L247.6,89.6L249.0,90.3M184.1,49.4L194.1,55.5L204.1,61.4L214.1,67.2L224.1,72.6L234.1,77.9L244.1,83.0M193.0,49.9L203.0,55.8L213.0,61.5L223.0,67.1L233.0,72.4L236.6,74.3" fill="none" stroke="#182800" stroke-width="0.5" opacity="0.21"/>
</g>
<path d="M158.00,71.00 C160.08,72.60 165.63,76.68 170.50,80.60 C175.37,84.52 183.12,90.77 187.20,94.50 C191.28,98.23 192.95,100.10 195.00,103.00 C197.05,105.90 198.17,109.23 199.50,111.90 C200.83,114.57 202.42,117.82 203.00,119.00" fill="none" stroke="#141a08" stroke-width="1.0" opacity="0.92"/>
<path d="M215.60,58.00 C215.17,61.17 213.82,70.50 213.00,77.00 C212.18,83.50 211.23,92.15 210.70,97.00 C210.17,101.85 210.07,102.10 209.80,106.10 C209.53,110.10 209.22,118.52 209.10,121.00" fill="none" stroke="#141a08" stroke-width="1.0" opacity="0.92"/>
<path d="M215.30,121.00 C216.23,120.27 218.73,117.43 220.90,116.60 C223.07,115.77 225.62,115.68 228.30,116.00 C230.98,116.32 233.90,117.37 237.00,118.50 C240.10,119.63 244.22,121.67 246.90,122.80 C249.58,123.93 252.07,124.88 253.10,125.30" fill="none" stroke="#141a08" stroke-width="1.0" opacity="0.92"/>
<path d="M204.80,121.00 C204.47,122.50 203.52,127.02 202.80,130.00 C202.08,132.98 200.88,137.42 200.50,138.90" fill="none" stroke="#141a08" stroke-width="1.0" opacity="0.92"/>
<path d="M158.00,81.90 C159.77,82.67 164.77,84.60 168.60,86.50 C172.43,88.40 177.50,91.13 181.00,93.30 C184.50,95.47 187.13,97.23 189.60,99.50 C192.07,101.77 194.12,104.45 195.80,106.90 C197.48,109.35 199.05,112.98 199.70,114.20" fill="none" stroke="#18a2d6" stroke-width="2.6" stroke-linecap="butt"/>
<path d="M214.60,123.00 C214.72,122.83 214.77,122.85 215.30,122.00 C215.83,121.15 216.65,119.32 217.80,117.90 C218.95,116.48 220.45,114.60 222.20,113.50 C223.95,112.40 225.83,111.68 228.30,111.30 C230.77,110.92 233.90,111.05 237.00,111.20 C240.10,111.35 244.02,111.83 246.90,112.20 C249.78,112.57 253.07,113.20 254.30,113.40" fill="none" stroke="#18a2d6" stroke-width="2.6" stroke-linecap="butt"/>
<path d="M253.20,124.40 C256.00,124.70 264.32,125.67 270.00,126.20 C275.68,126.73 281.80,127.23 287.30,127.60 C292.80,127.97 297.75,128.20 303.00,128.40 C308.25,128.60 313.63,128.77 318.80,128.80 C323.97,128.83 329.70,128.75 334.00,128.60 C338.30,128.45 342.83,128.02 344.60,127.90" fill="none" stroke="#f6bdb4" stroke-width="3.4" stroke-linecap="round"/>
<circle cx="253.6" cy="124.3" r="1.7" fill="#f0a060" opacity="0.8"/>
<circle cx="255.3" cy="113.3" r="3.1" fill="url(#gball_p)"/>
<circle cx="344.7" cy="127.9" r="3.1" fill="url(#gball_o)"/>
<g opacity="1.0"><path d="M399.60,124.00 Q401.60,128.82 402.26,136.06 L403.80,163.00 Q406.40,165.40 409.00,163.00 L410.54,136.06 Q411.20,128.82 413.20,124.00Z" fill="url(#gstem)"/><path d="M399.60,124.00 Q401.60,128.82 402.26,136.06 L403.80,163.00 Q406.40,165.40 409.00,163.00 L410.54,136.06 Q411.20,128.82 413.20,124.00Z" fill="url(#gstemh)"/></g>
<g clip-path="url(#cd2)">
<path d="M454.50,121.10 L454.84,119.30 L455.04,117.44 L455.10,115.53 L455.04,113.56 L454.83,111.56 L454.50,109.51 L454.02,107.44 L453.42,105.34 L452.69,103.22 L451.83,101.08 L450.84,98.93 L449.73,96.78 L448.49,94.64 L447.14,92.50 L445.68,90.38 L444.11,88.27 L442.43,86.20 L440.65,84.15 L438.78,82.14 L436.82,80.18 L434.77,78.26 L432.64,76.40 L430.44,74.59 L428.17,72.85 L425.84,71.18 L423.46,69.58 L421.02,68.06 L418.55,66.62 L416.04,65.27 L413.50,64.00 L410.94,62.83 L408.37,61.75 L405.79,60.77 L403.21,59.89 L400.63,59.12 L398.07,58.45 L395.54,57.90 L393.03,57.45 L390.55,57.11 L388.12,56.88 L385.73,56.76 L383.40,56.76 L381.14,56.87 L378.94,57.09 L376.81,57.42 L374.76,57.87 L372.80,58.42 L370.93,59.08 L369.15,59.85 L367.47,60.72 L365.90,61.69 L364.44,62.77 L363.09,63.93 L361.86,65.20 L360.75,66.55 L359.77,67.98 L358.90,69.50 L358.17,71.09 L357.57,72.76 L357.10,74.50 L356.76,76.30 L356.56,78.16 L356.50,80.07 L356.56,82.04 L356.77,84.04 L357.10,86.09 L357.58,88.16 L358.18,90.26 L358.91,92.38 L359.77,94.52 L360.76,96.67 L361.87,98.82 L363.11,100.96 L364.46,103.10 L365.92,105.22 L367.49,107.33 L369.17,109.40 L370.95,111.45 L372.82,113.46 L374.78,115.42 L376.83,117.34 L378.96,119.20 L381.16,121.01 L383.43,122.75 L385.76,124.42 L388.14,126.02 L390.58,127.54 L393.05,128.98 L395.56,130.33 L398.10,131.60 L400.66,132.77 L403.23,133.85 L405.81,134.83 L408.39,135.71 L410.97,136.48 L413.53,137.15 L416.06,137.70 L418.57,138.15 L421.05,138.49 L423.48,138.72 L425.87,138.84 L428.20,138.84 L430.46,138.73 L432.66,138.51 L434.79,138.18 L436.84,137.73 L438.80,137.18 L440.67,136.52 L442.45,135.75 L444.13,134.88 L445.70,133.91 L447.16,132.83 L448.51,131.67 L449.74,130.40 L450.85,129.05 L451.83,127.62 L452.70,126.10 L453.43,124.51 L454.03,122.84Z" fill="url(#gd2)"/>
<path d="M435.99,114.61 L436.35,110.24 L435.52,105.49 L433.56,100.53 L430.53,95.56 L426.54,90.76 L421.77,86.33 L416.37,82.43 L410.57,79.21 L404.59,76.79 L398.66,75.27 L392.99,74.71 L387.83,75.13 L383.35,76.51 L379.73,78.80 L377.12,81.91 L375.61,85.72 L375.25,90.08 L376.08,94.84 L378.04,99.79 L381.07,104.77 L385.06,109.56 L389.83,114.00 L395.23,117.90 L401.03,121.12 L407.01,123.53 L412.94,125.05 L418.61,125.61 L423.77,125.20 L428.25,123.82 L431.87,121.53 L434.48,118.42Z" fill="#3fae00" opacity="0.040"/>
<path d="M432.59,113.75 L432.90,109.88 L432.17,105.66 L430.42,101.26 L427.73,96.85 L424.20,92.60 L419.96,88.66 L415.18,85.20 L410.04,82.34 L404.73,80.20 L399.46,78.86 L394.44,78.36 L389.85,78.73 L385.88,79.95 L382.67,81.98 L380.36,84.74 L379.01,88.12 L378.70,91.99 L379.43,96.21 L381.18,100.61 L383.87,105.02 L387.40,109.27 L391.64,113.20 L396.42,116.67 L401.56,119.52 L406.87,121.67 L412.14,123.01 L417.16,123.51 L421.75,123.14 L425.72,121.92 L428.93,119.89 L431.24,117.13Z" fill="#3fae00" opacity="0.050"/>
<path d="M429.18,113.10 L429.45,109.72 L428.81,106.04 L427.29,102.20 L424.94,98.35 L421.86,94.64 L418.16,91.20 L413.99,88.18 L409.50,85.69 L404.86,83.82 L400.27,82.64 L395.89,82.21 L391.88,82.53 L388.42,83.60 L385.62,85.37 L383.59,87.78 L382.42,90.73 L382.15,94.11 L382.79,97.79 L384.31,101.63 L386.66,105.48 L389.74,109.19 L393.44,112.62 L397.61,115.64 L402.10,118.14 L406.74,120.01 L411.33,121.18 L415.71,121.62 L419.72,121.29 L423.18,120.23 L425.98,118.45 L428.01,116.05Z" fill="#3fae00" opacity="0.060"/>
<path d="M426.25,112.77 L426.49,109.81 L425.93,106.59 L424.60,103.24 L422.55,99.87 L419.85,96.62 L416.62,93.62 L412.96,90.97 L409.03,88.79 L404.98,87.15 L400.96,86.13 L397.13,85.75 L393.62,86.03 L390.59,86.96 L388.14,88.51 L386.37,90.62 L385.35,93.20 L385.11,96.16 L385.67,99.38 L387.00,102.74 L389.05,106.10 L391.75,109.35 L394.98,112.36 L398.64,115.00 L402.57,117.18 L406.62,118.82 L410.64,119.85 L414.47,120.23 L417.98,119.94 L421.01,119.01 L423.46,117.46 L425.23,115.35Z" fill="#3fae00" opacity="0.070"/>
<path d="M423.82,112.73 L424.03,110.13 L423.54,107.29 L422.37,104.33 L420.56,101.36 L418.18,98.50 L415.33,95.86 L412.11,93.53 L408.65,91.61 L405.08,90.16 L401.54,89.26 L398.16,88.92 L395.07,89.17 L392.40,90.00 L390.24,91.36 L388.68,93.22 L387.78,95.49 L387.57,98.10 L388.06,100.93 L389.23,103.89 L391.04,106.86 L393.42,109.72 L396.27,112.37 L399.49,114.70 L402.95,116.62 L406.52,118.06 L410.06,118.97 L413.44,119.30 L416.53,119.05 L419.20,118.23 L421.36,116.86 L422.92,115.01Z" fill="#3fae00" opacity="0.080"/>
<path d="M421.87,112.91 L422.06,110.59 L421.62,108.06 L420.57,105.42 L418.96,102.77 L416.84,100.22 L414.30,97.86 L411.43,95.78 L408.34,94.07 L405.16,92.78 L402.00,91.97 L398.98,91.67 L396.23,91.90 L393.85,92.63 L391.92,93.85 L390.53,95.50 L389.73,97.53 L389.54,99.85 L389.98,102.38 L391.03,105.02 L392.64,107.67 L394.76,110.22 L397.30,112.58 L400.17,114.66 L403.26,116.37 L406.44,117.66 L409.60,118.47 L412.62,118.77 L415.37,118.54 L417.75,117.81 L419.68,116.59 L421.07,114.94Z" fill="#3fae00" opacity="0.090"/>
<path d="M419.92,113.33 L420.09,111.29 L419.70,109.07 L418.78,106.75 L417.37,104.42 L415.50,102.18 L413.27,100.10 L410.75,98.28 L408.03,96.77 L405.23,95.64 L402.46,94.93 L399.81,94.67 L397.39,94.86 L395.30,95.51 L393.61,96.58 L392.38,98.03 L391.68,99.82 L391.51,101.86 L391.90,104.08 L392.82,106.40 L394.23,108.73 L396.10,110.97 L398.33,113.04 L400.85,114.87 L403.57,116.38 L406.37,117.51 L409.14,118.22 L411.79,118.48 L414.21,118.28 L416.30,117.64 L417.99,116.57 L419.22,115.11Z" fill="#3fae00" opacity="0.100"/>
<path d="M418.46,113.86 L418.61,112.02 L418.26,110.03 L417.44,107.95 L416.17,105.87 L414.50,103.86 L412.50,102.00 L410.23,100.36 L407.80,99.01 L405.29,98.00 L402.80,97.36 L400.43,97.12 L398.26,97.30 L396.38,97.88 L394.87,98.84 L393.77,100.14 L393.14,101.74 L392.99,103.57 L393.34,105.56 L394.16,107.64 L395.43,109.73 L397.10,111.74 L399.10,113.60 L401.37,115.23 L403.80,116.59 L406.31,117.60 L408.80,118.23 L411.17,118.47 L413.34,118.29 L415.22,117.72 L416.73,116.76 L417.83,115.45Z" fill="#3fae00" opacity="0.100"/>
<clipPath id="clip2"><path d="M417.49,114.33 L417.63,113.22 L417.57,112.04 L417.31,110.80 L416.85,109.52 L416.20,108.23 L415.37,106.95 L414.38,105.70 L413.24,104.51 L411.98,103.38 L410.61,102.35 L409.16,101.42 L407.65,100.62 L406.11,99.96 L404.56,99.45 L403.03,99.10 L401.56,98.91 L400.15,98.90 L398.84,99.05 L397.65,99.36 L396.60,99.84 L395.71,100.46 L394.99,101.23 L394.45,102.13 L394.11,103.14 L393.97,104.25 L394.03,105.43 L394.29,106.67 L394.75,107.95 L395.40,109.24 L396.23,110.52 L397.22,111.77 L398.36,112.96 L399.62,114.09 L400.99,115.12 L402.44,116.05 L403.95,116.85 L405.49,117.51 L407.04,118.02 L408.57,118.37 L410.04,118.56 L411.45,118.58 L412.76,118.43 L413.95,118.11 L415.00,117.63 L415.89,117.01 L416.61,116.24 L417.15,115.34Z"/></clipPath>
<g clip-path="url(#clip2)">
<path d="M417.24,114.46 L417.38,112.81 L417.07,111.01 L416.32,109.13 L415.17,107.24 L413.66,105.43 L411.85,103.74 L409.81,102.27 L407.61,101.04 L405.34,100.13 L403.09,99.55 L400.95,99.34 L398.99,99.50 L397.29,100.02 L395.92,100.89 L394.93,102.07 L394.36,103.51 L394.22,105.17 L394.53,106.97 L395.28,108.85 L396.43,110.73 L397.94,112.55 L399.75,114.23 L401.79,115.71 L403.99,116.93 L406.26,117.85 L408.51,118.42 L410.65,118.63 L412.61,118.48 L414.31,117.95 L415.68,117.09 L416.67,115.91Z" fill="#4ab800" opacity="0.12"/>
<path d="M416.73,114.78 L416.85,113.20 L416.55,111.48 L415.84,109.68 L414.75,107.89 L413.31,106.15 L411.58,104.55 L409.63,103.13 L407.53,101.97 L405.36,101.09 L403.22,100.55 L401.17,100.34 L399.30,100.49 L397.68,100.99 L396.37,101.82 L395.42,102.95 L394.87,104.32 L394.75,105.90 L395.05,107.62 L395.76,109.42 L396.85,111.22 L398.29,112.95 L400.02,114.56 L401.97,115.97 L404.07,117.13 L406.24,118.01 L408.38,118.56 L410.43,118.76 L412.30,118.61 L413.92,118.11 L415.23,117.28 L416.18,116.16Z" fill="#42ab03" opacity="0.13"/>
<path d="M416.21,115.13 L416.33,113.63 L416.04,111.99 L415.37,110.28 L414.32,108.56 L412.95,106.91 L411.30,105.38 L409.44,104.04 L407.45,102.93 L405.38,102.10 L403.34,101.57 L401.39,101.38 L399.61,101.52 L398.06,102.00 L396.82,102.79 L395.92,103.86 L395.39,105.17 L395.27,106.68 L395.56,108.32 L396.23,110.02 L397.28,111.74 L398.65,113.39 L400.30,114.92 L402.16,116.26 L404.15,117.37 L406.22,118.21 L408.26,118.73 L410.21,118.92 L411.99,118.78 L413.54,118.30 L414.78,117.51 L415.68,116.44Z" fill="#3da206" opacity="0.16"/>
<path d="M415.69,115.52 L415.80,114.09 L415.53,112.54 L414.89,110.91 L413.90,109.28 L412.59,107.71 L411.03,106.26 L409.26,104.98 L407.36,103.93 L405.40,103.14 L403.46,102.64 L401.61,102.46 L399.91,102.59 L398.45,103.05 L397.26,103.80 L396.41,104.81 L395.91,106.06 L395.80,107.49 L396.07,109.05 L396.71,110.67 L397.70,112.30 L399.01,113.87 L400.57,115.32 L402.34,116.60 L404.24,117.65 L406.20,118.44 L408.14,118.94 L409.99,119.12 L411.69,118.99 L413.15,118.54 L414.34,117.79 L415.19,116.77Z" fill="#389a09" opacity="0.19"/>
<path d="M415.17,115.95 L415.28,114.60 L415.02,113.13 L414.41,111.59 L413.47,110.05 L412.24,108.56 L410.75,107.18 L409.08,105.97 L407.28,104.97 L405.43,104.22 L403.58,103.75 L401.83,103.58 L400.22,103.71 L398.83,104.14 L397.71,104.85 L396.90,105.81 L396.43,106.99 L396.32,108.35 L396.58,109.82 L397.19,111.36 L398.13,112.90 L399.36,114.39 L400.85,115.76 L402.52,116.97 L404.32,117.97 L406.17,118.72 L408.02,119.19 L409.77,119.37 L411.38,119.24 L412.77,118.81 L413.89,118.10 L414.70,117.14Z" fill="#34920b" opacity="0.22"/>
<path d="M414.65,116.43 L414.75,115.15 L414.51,113.76 L413.93,112.31 L413.05,110.85 L411.88,109.45 L410.48,108.15 L408.90,107.00 L407.20,106.06 L405.45,105.35 L403.71,104.91 L402.05,104.74 L400.53,104.87 L399.22,105.27 L398.16,105.94 L397.40,106.85 L396.95,107.97 L396.85,109.25 L397.09,110.64 L397.67,112.09 L398.55,113.55 L399.72,114.95 L401.12,116.25 L402.70,117.40 L404.40,118.34 L406.15,119.05 L407.89,119.49 L409.55,119.66 L411.07,119.54 L412.38,119.13 L413.44,118.46 L414.20,117.55Z" fill="#308b0e" opacity="0.26"/>
<path d="M414.13,116.96 L414.22,115.76 L414.00,114.45 L413.46,113.08 L412.62,111.71 L411.52,110.38 L410.20,109.16 L408.72,108.08 L407.12,107.20 L405.47,106.53 L403.83,106.11 L402.27,105.96 L400.84,106.07 L399.61,106.45 L398.61,107.08 L397.89,107.94 L397.47,108.99 L397.38,110.20 L397.60,111.51 L398.14,112.87 L398.98,114.25 L400.08,115.57 L401.40,116.79 L402.88,117.87 L404.48,118.76 L406.13,119.42 L407.77,119.84 L409.33,120.00 L410.76,119.88 L411.99,119.50 L412.99,118.87 L413.71,118.01Z" fill="#2c8410" opacity="0.30"/>
<path d="M413.61,117.54 L413.70,116.41 L413.49,115.18 L412.98,113.90 L412.19,112.61 L411.16,111.37 L409.93,110.22 L408.53,109.22 L407.03,108.38 L405.49,107.76 L403.95,107.37 L402.49,107.22 L401.15,107.33 L399.99,107.68 L399.06,108.28 L398.38,109.08 L397.99,110.07 L397.90,111.20 L398.11,112.42 L398.62,113.71 L399.41,114.99 L400.44,116.23 L401.67,117.38 L403.07,118.39 L404.57,119.22 L406.11,119.85 L407.65,120.24 L409.11,120.38 L410.45,120.28 L411.61,119.92 L412.54,119.33 L413.22,118.52Z" fill="#287d12" opacity="0.35"/>
<path d="M413.09,118.17 L413.17,117.11 L412.97,115.97 L412.50,114.77 L411.77,113.57 L410.81,112.41 L409.65,111.34 L408.35,110.40 L406.95,109.62 L405.51,109.04 L404.08,108.67 L402.71,108.54 L401.46,108.64 L400.38,108.97 L399.51,109.52 L398.88,110.27 L398.51,111.19 L398.43,112.25 L398.63,113.39 L399.10,114.59 L399.83,115.79 L400.79,116.95 L401.95,118.02 L403.25,118.96 L404.65,119.74 L406.09,120.32 L407.52,120.69 L408.89,120.82 L410.14,120.72 L411.22,120.39 L412.09,119.84 L412.72,119.09Z" fill="#247614" opacity="0.39"/>
<path d="M412.57,118.85 L412.65,117.87 L412.46,116.81 L412.02,115.69 L411.34,114.58 L410.45,113.50 L409.38,112.51 L408.17,111.64 L406.87,110.91 L405.53,110.37 L404.20,110.03 L402.93,109.91 L401.77,110.00 L400.77,110.31 L399.96,110.82 L399.37,111.52 L399.03,112.37 L398.95,113.35 L399.14,114.42 L399.58,115.53 L400.26,116.64 L401.15,117.72 L402.22,118.71 L403.43,119.59 L404.73,120.31 L406.07,120.85 L407.40,121.19 L408.67,121.32 L409.83,121.22 L410.83,120.91 L411.64,120.40 L412.23,119.70Z" fill="#207016" opacity="0.44"/>
<path d="M412.05,119.59 L412.12,118.68 L411.95,117.70 L411.55,116.67 L410.92,115.64 L410.09,114.65 L409.10,113.73 L407.99,112.92 L406.79,112.26 L405.55,111.76 L404.32,111.44 L403.15,111.33 L402.08,111.41 L401.15,111.70 L400.40,112.17 L399.86,112.82 L399.55,113.60 L399.48,114.51 L399.65,115.49 L400.05,116.52 L400.68,117.55 L401.51,118.54 L402.50,119.46 L403.61,120.27 L404.81,120.93 L406.05,121.43 L407.28,121.75 L408.45,121.86 L409.52,121.78 L410.45,121.49 L411.20,121.02 L411.74,120.37Z" fill="#1d6918" opacity="0.49"/>
<path d="M411.53,120.37 L411.60,119.54 L411.44,118.64 L411.07,117.70 L410.49,116.76 L409.74,115.85 L408.83,115.00 L407.81,114.26 L406.71,113.65 L405.57,113.19 L404.44,112.91 L403.37,112.80 L402.39,112.88 L401.54,113.14 L400.85,113.57 L400.36,114.16 L400.07,114.89 L400.00,115.72 L400.16,116.62 L400.53,117.56 L401.11,118.50 L401.86,119.41 L402.77,120.25 L403.79,120.99 L404.89,121.61 L406.03,122.06 L407.16,122.35 L408.23,122.46 L409.21,122.38 L410.06,122.12 L410.75,121.68 L411.24,121.09Z" fill="#19631a" opacity="0.55"/>
<path d="M411.01,121.20 L411.07,120.45 L410.93,119.63 L410.59,118.77 L410.07,117.91 L409.38,117.09 L408.56,116.32 L407.62,115.65 L406.62,115.09 L405.59,114.67 L404.57,114.41 L403.59,114.32 L402.70,114.39 L401.93,114.63 L401.30,115.02 L400.85,115.56 L400.59,116.21 L400.53,116.97 L400.67,117.79 L401.01,118.64 L401.53,119.50 L402.22,120.33 L403.04,121.10 L403.98,121.77 L404.98,122.32 L406.01,122.74 L407.03,123.00 L408.01,123.10 L408.90,123.03 L409.67,122.79 L410.30,122.40 L410.75,121.86Z" fill="#165d1c" opacity="0.60"/>
<path d="M410.49,122.07 L410.55,121.39 L410.42,120.65 L410.11,119.88 L409.64,119.11 L409.02,118.36 L408.28,117.67 L407.44,117.07 L406.54,116.57 L405.61,116.19 L404.69,115.96 L403.81,115.87 L403.01,115.93 L402.31,116.15 L401.75,116.50 L401.34,116.99 L401.11,117.58 L401.05,118.26 L401.18,118.99 L401.49,119.76 L401.96,120.54 L402.58,121.28 L403.32,121.97 L404.16,122.58 L405.06,123.08 L405.99,123.45 L406.91,123.69 L407.79,123.78 L408.59,123.71 L409.29,123.50 L409.85,123.14 L410.26,122.66Z" fill="#12571e" opacity="0.66"/>
<path d="M409.97,122.95 L410.02,122.35 L409.91,121.69 L409.64,121.01 L409.22,120.32 L408.67,119.66 L408.01,119.05 L407.26,118.51 L406.46,118.06 L405.63,117.73 L404.81,117.52 L404.03,117.44 L403.32,117.50 L402.70,117.69 L402.20,118.01 L401.84,118.44 L401.63,118.96 L401.58,119.57 L401.69,120.22 L401.96,120.91 L402.38,121.59 L402.93,122.26 L403.59,122.87 L404.34,123.41 L405.14,123.85 L405.97,124.19 L406.79,124.40 L407.57,124.47 L408.28,124.42 L408.90,124.23 L409.40,123.91 L409.76,123.48Z" fill="#0f5120" opacity="0.72"/>
<path d="M409.45,123.84 L409.49,123.31 L409.40,122.74 L409.16,122.14 L408.79,121.54 L408.31,120.96 L407.73,120.42 L407.08,119.95 L406.38,119.56 L405.65,119.27 L404.94,119.08 L404.25,119.02 L403.63,119.07 L403.08,119.23 L402.65,119.51 L402.33,119.89 L402.15,120.35 L402.11,120.88 L402.20,121.45 L402.44,122.05 L402.81,122.65 L403.29,123.23 L403.87,123.77 L404.52,124.24 L405.22,124.63 L405.95,124.92 L406.66,125.11 L407.35,125.17 L407.97,125.12 L408.52,124.96 L408.95,124.68 L409.27,124.30Z" fill="#0c4c22" opacity="0.78"/>
</g>
<path d="M358.6,91.6L360.2,85.1L361.7,78.5L363.2,71.6L364.8,64.6L365.3,62.1M362.2,99.4L363.8,93.1L365.3,86.7L366.8,80.1L368.4,73.2L369.9,66.1L371.5,58.9M366.2,105.6L367.8,99.5L369.3,93.3L370.8,86.9L372.4,80.2L373.9,73.1L375.5,65.7L377.0,58.4L377.2,57.4M370.4,110.9L372.0,104.8L373.5,98.8L375.0,92.8L376.6,86.4L378.1,79.3L379.7,71.8L381.2,64.2L382.7,56.8M374.8,115.4L376.3,109.4L377.9,103.7L379.4,98.1L380.9,92.1L382.5,85.2L384.0,77.4L385.6,69.5L387.1,61.8L388.1,56.9M379.3,119.5L380.8,113.5L382.3,108.0L383.9,102.8L385.4,97.7L386.0,95.6L386.5,93.3L387.0,90.7L387.6,87.9L388.1,85.0L388.7,82.0L390.2,73.6L391.7,65.6L393.3,58.0L393.4,57.5M383.8,123.1L385.4,117.2L386.9,111.8L388.5,107.1L389.0,105.7L389.5,104.4L390.1,103.0L390.6,101.4L391.2,99.4L391.7,96.7L392.2,93.6L392.8,90.3L393.3,86.9L393.9,83.6L394.4,80.4L395.9,71.8L397.5,63.8L398.5,58.6M388.5,126.3L390.1,120.4L391.6,115.2L393.1,111.0L393.7,110.0L394.2,109.2L394.8,108.8L395.0,108.6L395.3,108.3L395.6,107.9L395.8,107.2L396.1,106.1L396.4,104.7L396.6,102.9L396.9,100.9L397.2,98.8L397.4,96.6L397.7,94.5L398.0,92.4L398.5,88.4L399.1,84.8L399.6,81.4L401.1,72.6L402.7,64.6L403.6,60.0M393.3,129.1L394.8,123.3L396.3,118.1L397.9,114.3L398.4,113.6L399.0,113.5L399.2,113.8L399.5,114.3L399.8,115.0M401.9,106.8L402.2,103.5L402.5,100.5L402.7,97.7L403.0,95.2L403.3,92.9L403.8,88.7L404.4,84.9L404.9,81.5L406.4,72.8L408.0,64.9L408.6,61.8M398.1,131.6L399.6,125.8L401.2,120.6L402.7,116.9L403.3,116.4L403.8,116.6L404.1,117.1L404.3,118.1M407.3,104.7L407.6,101.5L407.8,98.6L408.1,96.1L408.6,91.6L409.2,87.7L409.7,84.2L411.3,75.4L412.8,67.4L413.5,64.0M403.0,133.8L404.5,128.0L406.1,122.8L407.6,118.9L408.2,118.2L408.7,118.2L409.0,118.4L409.2,118.9L409.5,119.7M411.7,111.4L411.9,108.2L412.2,105.2L412.5,102.4L412.7,99.9L413.0,97.5L413.6,93.3L414.1,89.6L414.6,86.2L416.2,77.5L417.7,69.5L418.3,66.5M408.0,135.6L409.5,129.8L411.1,124.5L412.6,120.3L413.2,119.3L413.7,118.6L414.2,118.1L414.5,117.9L414.8,117.6L415.0,117.2L415.3,116.5L415.6,115.5L415.8,114.0L416.1,112.3L416.4,110.3L416.7,108.1L416.9,106.0L417.2,103.8L417.5,101.7L418.0,97.8L418.5,94.1L419.1,90.7L420.6,81.9L422.2,73.9L423.1,69.3M413.1,137.0L414.6,131.2L416.1,125.8L417.7,121.1L418.2,119.7L418.8,118.4L419.3,117.0L419.8,115.4L420.4,113.3L420.9,110.7L421.5,107.6L422.0,104.3L422.5,100.9L423.1,97.6L423.6,94.3L425.2,85.7L426.7,77.8L427.8,72.5M418.2,138.1L419.8,132.2L421.3,126.6L422.8,121.5L424.4,116.3L424.9,114.2L425.5,111.9L426.0,109.3L426.5,106.5L427.1,103.6L427.6,100.6L429.2,92.2L430.7,84.3L432.2,76.6L432.3,76.1M423.5,138.7L425.0,132.7L426.6,127.0L428.1,121.4L429.6,115.4L431.2,108.5L432.7,100.7L434.3,92.8L435.8,85.1L436.8,80.2M428.9,138.8L430.4,132.8L431.9,126.8L433.5,120.8L435.0,114.3L436.6,107.3L438.1,99.8L439.6,92.2L441.2,84.7M434.4,138.2L435.9,132.1L437.5,125.9L439.0,119.6L440.6,112.8L442.1,105.7L443.6,98.4L445.2,91.0L445.4,90.0M440.1,136.7L441.7,130.4L443.2,124.0L444.8,117.4L446.3,110.5L447.8,103.4L449.4,96.2M446.3,133.5L447.8,127.0L449.4,120.4L450.9,113.6L452.4,106.6L453.0,104.0M377.6,118.1L387.4,123.0L397.1,127.8L406.9,132.4L416.6,136.8L420.1,138.4M370.4,110.9L380.2,116.0L389.9,121.0L399.6,125.8L409.4,130.3L419.1,134.6L428.9,138.8M365.6,104.8L375.4,110.1L385.1,115.3L394.9,120.4L404.6,125.1L414.3,129.4L424.1,133.5L433.8,137.5L435.2,138.1M362.2,99.4L372.0,104.8L381.7,110.3L391.4,115.7L401.2,120.6L410.9,125.0L420.7,128.9L430.4,132.8L440.1,136.7M359.8,94.5L369.5,100.0L379.3,105.6L389.0,111.4L398.7,116.9L408.5,121.4L418.2,125.0L428.0,128.6L437.7,132.3L444.1,134.9M358.1,90.0L367.8,95.5L377.6,101.3L387.3,107.6L397.0,113.9L400.5,115.8L403.9,117.5L407.3,118.9L410.7,120.1L414.1,121.1L417.5,122.2L427.2,125.2L437.0,128.6L446.7,132.4L447.4,132.7M357.0,85.7L366.8,91.3L376.5,97.3L386.3,104.1L389.7,106.7L393.1,109.3L396.5,111.9L399.9,114.3L403.3,116.3L406.7,117.6L410.1,118.5L413.5,119.2L416.9,119.8L420.3,120.5L423.8,121.3L433.5,124.1L443.2,127.5L449.9,130.2M356.5,81.7L366.3,87.3L376.0,93.5L385.8,100.7L389.2,103.7L392.6,107.0L396.0,110.5L397.7,112.3L399.4,114.0L401.1,115.6L402.8,116.9L404.5,117.9L406.2,118.4L407.9,118.7L409.6,118.7L411.3,118.5L413.0,118.4L414.7,118.2L416.4,118.1L419.9,118.1L423.3,118.5L426.7,119.1L436.4,121.7L446.2,125.1L452.0,127.4M356.6,78.0L366.3,83.6L376.1,89.8L385.8,97.4L389.2,100.7L392.6,104.6L394.3,106.9L396.0,109.4L397.7,112.2M411.4,119.9L413.1,118.7L414.8,117.6L416.5,116.9L418.2,116.3L419.9,116.0L423.3,115.8L426.7,116.1L430.1,116.6L439.9,119.3L449.6,122.8L453.5,124.4M357.1,74.5L366.8,80.1L376.6,86.4L386.3,94.1L389.7,97.5L393.1,101.7L394.8,104.3L396.5,107.2M415.3,115.8L417.0,114.6L418.7,113.8L420.4,113.2L423.8,112.7L427.2,112.9L430.6,113.3L440.4,115.9L450.1,119.4L454.5,121.1M358.1,71.2L367.9,76.9L377.6,83.1L387.3,90.7L390.7,94.0L394.2,97.9L395.9,100.1L397.6,102.7L399.3,105.4M412.9,113.2L414.6,111.9L416.3,110.9L418.0,110.1L419.7,109.6L421.4,109.2L424.8,109.0L428.2,109.3L431.7,109.9L441.4,112.6L451.1,116.1L455.0,117.6M359.6,68.2L369.4,73.8L379.1,80.0L388.8,87.2L392.3,90.2L395.7,93.4L399.1,97.0L400.8,98.8L402.5,100.5L404.2,102.1L405.9,103.4L407.6,104.3L409.3,104.9L411.0,105.1L412.7,105.1L414.4,105.0L416.1,104.8L417.8,104.7L419.5,104.6L422.9,104.6L426.3,105.0L429.8,105.5L439.5,108.2L449.2,111.6L455.1,113.9M361.7,65.4L371.4,71.0L381.1,77.0L390.9,83.8L394.3,86.4L397.7,89.0L401.1,91.6L404.5,94.0L407.9,96.0L411.3,97.4L414.7,98.3L418.1,98.9L421.6,99.5L425.0,100.2L428.4,101.0L438.1,103.8L447.9,107.3L454.6,109.9M364.2,62.9L374.0,68.4L383.7,74.3L393.5,80.6L403.2,86.8L406.6,88.7L410.0,90.4L413.4,91.8L416.8,93.0L420.3,94.1L423.7,95.1L433.4,98.2L443.1,101.6L452.9,105.4L453.5,105.6M367.5,60.7L377.2,66.2L387.0,71.8L396.7,77.6L406.4,83.1L416.2,87.6L425.9,91.2L435.7,94.8L445.4,98.5L451.8,101.1M371.5,58.9L381.2,64.2L390.9,69.7L400.7,75.1L410.4,80.1L420.2,84.4L429.9,88.3L439.6,92.2L449.4,96.2M376.4,57.5L386.2,62.8L395.9,68.0L405.6,73.1L415.4,77.8L425.1,82.1L434.9,86.1L444.6,90.2L446.0,90.8M382.7,56.8L392.5,61.9L402.2,66.9L412.0,71.7L421.7,76.2L431.4,80.5L441.2,84.7M391.5,57.2L401.2,62.2L411.0,67.0L420.7,71.6L430.5,76.0L434.0,77.5" fill="none" stroke="#182800" stroke-width="0.5" opacity="0.21"/>
</g>
<path d="M356.80,74.80 C359.80,76.45 369.73,81.20 374.80,84.70 C379.87,88.20 384.12,92.50 387.20,95.80 C390.28,99.10 391.70,102.03 393.30,104.50 C394.90,106.97 396.22,109.58 396.80,110.60" fill="none" stroke="#141a08" stroke-width="1.0" opacity="0.92"/>
<path d="M413.50,64.20 C413.03,67.00 411.58,75.12 410.70,81.00 C409.82,86.88 408.82,93.73 408.20,99.50 C407.58,105.27 407.20,112.92 407.00,115.60" fill="none" stroke="#141a08" stroke-width="1.0" opacity="0.92"/>
<path d="M402.60,117.50 C402.08,118.63 400.35,121.90 399.50,124.30 C398.65,126.70 397.83,130.63 397.50,131.90" fill="none" stroke="#141a08" stroke-width="1.0" opacity="0.92"/>
<path d="M412.60,118.00 C413.10,117.82 414.27,117.60 415.60,116.90 C416.93,116.20 418.20,114.42 420.60,113.80 C423.00,113.18 426.02,112.78 430.00,113.20 C433.98,113.62 440.35,114.92 444.50,116.30 C448.65,117.68 453.17,120.63 454.90,121.50" fill="none" stroke="#141a08" stroke-width="1.0" opacity="0.92"/>
<path d="M363.00,100.80 C364.97,100.97 371.18,101.28 374.80,101.80 C378.42,102.32 382.02,103.03 384.70,103.90 C387.38,104.77 389.13,105.95 390.90,107.00 C392.67,108.05 394.57,109.67 395.30,110.20" fill="none" stroke="#18a2d6" stroke-width="2.6" stroke-linecap="butt"/>
<path d="M411.60,120.00 C411.75,119.58 412.03,119.05 412.50,117.50 C412.97,115.95 413.27,112.87 414.40,110.70 C415.53,108.53 417.45,106.25 419.30,104.50 C421.15,102.75 423.72,101.23 425.50,100.20 C427.28,99.17 427.58,99.02 430.00,98.30 C432.42,97.58 436.80,96.57 440.00,95.90 C443.20,95.23 447.67,94.57 449.20,94.30" fill="none" stroke="#18a2d6" stroke-width="2.6" stroke-linecap="butt"/>
<path d="M452.90,111.10 C455.05,110.67 459.35,110.13 465.80,108.50 C472.25,106.87 483.00,104.13 491.60,101.30 C500.20,98.47 508.82,95.28 517.40,91.50 C525.98,87.72 534.52,83.20 543.10,78.60 C551.68,74.00 560.97,68.68 568.90,63.90 C576.83,59.12 587.07,52.23 590.70,49.90" fill="none" stroke="#cdc5e5" stroke-width="3.4"/>
<path d="M455.50,122.70 C457.22,122.92 459.78,123.40 465.80,124.00 C471.82,124.60 483.00,125.80 491.60,126.30 C500.20,126.80 508.82,127.08 517.40,127.00 C525.98,126.92 534.52,126.52 543.10,125.80 C551.68,125.08 560.30,124.08 568.90,122.70 C577.50,121.32 586.18,119.43 594.70,117.50 C603.22,115.57 613.25,112.90 620.00,111.10 C626.75,109.30 628.47,109.12 635.20,106.70 C641.93,104.28 651.98,100.07 660.40,96.60 C668.82,93.13 681.02,87.87 685.70,85.90 C690.38,83.93 688.03,84.98 688.50,84.80" fill="none" stroke="#f6c0b8" stroke-width="3.4"/>
<circle cx="590.9" cy="49.7" r="3.1" fill="url(#gball_p)"/>
<circle cx="688.7" cy="84.8" r="3.0" fill="url(#gball_o)"/>
<text transform="translate(559.0,88.9) rotate(-35.5)" font-size="14.1" fill="#8428d0" stroke="#8428d0" stroke-width="0.25">Wigner</text>
<text transform="translate(622.6,127.1) rotate(-22.9)" font-size="14.1" fill="#ff0808" stroke="#ff0808" stroke-width="0.25">Simple man</text>
<text x="600.6" y="55.2" font-size="14.3" fill="#8428d0" stroke="#8428d0" stroke-width="0.2">(p<tspan font-size="13" dy="3.2">i</tspan><tspan dy="-3.2">≠0,τ</tspan><tspan font-size="13" dy="3.2">i</tspan><tspan dy="-3.2">≠0)</tspan></text>
<text x="629.0" y="78.3" font-size="14.3" fill="#ff0808" stroke="#ff0808" stroke-width="0.2">(p<tspan font-size="13" dy="3.2">i</tspan><tspan dy="-3.2">=0,τ</tspan><tspan font-size="13" dy="3.2">i</tspan><tspan dy="-3.2">=0)</tspan></text>
<g stroke="#111" stroke-width="1.1" fill="none"><path d="M10.1,134.5 L4.2,167 L41.5,172.8"/></g>
<path d="M10.9,129.5 L12.9,137.2 L7.0,136.1Z" fill="#111"/>
<path d="M46.6,173.5 L39.4,175.5 L40.2,169.6Z" fill="#111"/>
<text x="17.10" y="131.40" font-size="15.5" text-anchor="start" fill="#000"  stroke="#000" stroke-width="0.32">Y</text>
<text x="51.40" y="172.60" font-size="15.5" text-anchor="start" fill="#000"  stroke="#000" stroke-width="0.32">X</text>
<text x="-1.7" y="27.5" font-size="28.2" font-weight="bold" stroke="#000" stroke-width="0.15">a</text>
<text x="0.4" y="201.5" font-size="28.2" font-weight="bold" stroke="#000" stroke-width="0.15">b</text>
<text x="1.4" y="438.8" font-size="28.2" font-weight="bold" stroke="#000" stroke-width="0.15">c</text>
<rect x="78.3" y="199.2" width="121.90" height="166.60" fill="#eefcfd"/>
<line x1="200.2" y1="199.2" x2="200.2" y2="365.8" stroke="#a9bfdf" stroke-width="1.4"/>
<line x1="85.4" y1="199.2" x2="85.4" y2="365.8" stroke="#9fbbe0" stroke-width="1" stroke-dasharray="3.2,3.2"/>
<g stroke="#5a5a5a" stroke-width="0.8" fill="none">
<path d="M78.20,365.80v-1.6 M78.20,199.20v1.6"/>
<path d="M90.67,365.80v-1.6 M90.67,199.20v1.6"/>
<path d="M103.13,365.80v-1.6 M103.13,199.20v1.6"/>
<path d="M115.59,365.80v-1.6 M115.59,199.20v1.6"/>
<path d="M128.06,365.80v-1.6 M128.06,199.20v1.6"/>
<path d="M140.53,365.80v-1.6 M140.53,199.20v1.6"/>
<path d="M152.99,365.80v-1.6 M152.99,199.20v1.6"/>
<path d="M165.45,365.80v-1.6 M165.45,199.20v1.6"/>
<path d="M177.92,365.80v-1.6 M177.92,199.20v1.6"/>
<path d="M190.38,365.80v-1.6 M190.38,199.20v1.6"/>
<path d="M202.85,365.80v-1.6 M202.85,199.20v1.6"/>
<path d="M215.31,365.80v-1.6 M215.31,199.20v1.6"/>
<path d="M227.78,365.80v-1.6 M227.78,199.20v1.6"/>
<path d="M240.25,365.80v-1.6 M240.25,199.20v1.6"/>
<path d="M252.71,365.80v-1.6 M252.71,199.20v1.6"/>
<path d="M265.18,365.80v-1.6 M265.18,199.20v1.6"/>
<path d="M277.64,365.80v-1.6 M277.64,199.20v1.6"/>
<path d="M290.11,365.80v-1.6 M290.11,199.20v1.6"/>
<path d="M302.57,365.80v-1.6 M302.57,199.20v1.6"/>
<path d="M315.04,365.80v-1.6 M315.04,199.20v1.6"/>
<path d="M327.50,365.80v-1.6 M327.50,199.20v1.6"/>
<path d="M339.96,365.80v-1.6 M339.96,199.20v1.6"/>
<path d="M78.20,365.80v-2.7 M78.20,199.20v2.7"/>
<path d="M128.06,365.80v-2.7 M128.06,199.20v2.7"/>
<path d="M177.92,365.80v-2.7 M177.92,199.20v2.7"/>
<path d="M227.78,365.80v-2.7 M227.78,199.20v2.7"/>
<path d="M277.64,365.80v-2.7 M277.64,199.20v2.7"/>
<path d="M327.50,365.80v-2.7 M327.50,199.20v2.7"/>
<path d="M78.30,365.80h1.6 M349.20,365.80h-1.6"/>
<path d="M78.30,357.47h1.6 M349.20,357.47h-1.6"/>
<path d="M78.30,349.14h1.6 M349.20,349.14h-1.6"/>
<path d="M78.30,340.81h1.6 M349.20,340.81h-1.6"/>
<path d="M78.30,332.48h1.6 M349.20,332.48h-1.6"/>
<path d="M78.30,324.15h1.6 M349.20,324.15h-1.6"/>
<path d="M78.30,315.82h1.6 M349.20,315.82h-1.6"/>
<path d="M78.30,307.49h1.6 M349.20,307.49h-1.6"/>
<path d="M78.30,299.16h1.6 M349.20,299.16h-1.6"/>
<path d="M78.30,290.83h1.6 M349.20,290.83h-1.6"/>
<path d="M78.30,282.50h1.6 M349.20,282.50h-1.6"/>
<path d="M78.30,274.17h1.6 M349.20,274.17h-1.6"/>
<path d="M78.30,265.84h1.6 M349.20,265.84h-1.6"/>
<path d="M78.30,257.51h1.6 M349.20,257.51h-1.6"/>
<path d="M78.30,249.18h1.6 M349.20,249.18h-1.6"/>
<path d="M78.30,240.85h1.6 M349.20,240.85h-1.6"/>
<path d="M78.30,232.52h1.6 M349.20,232.52h-1.6"/>
<path d="M78.30,224.19h1.6 M349.20,224.19h-1.6"/>
<path d="M78.30,215.86h1.6 M349.20,215.86h-1.6"/>
<path d="M78.30,207.53h1.6 M349.20,207.53h-1.6"/>
<path d="M78.30,199.20h1.6 M349.20,199.20h-1.6"/>
<path d="M78.30,365.80h2.7 M349.20,365.80h-2.7"/>
<path d="M78.30,324.15h2.7 M349.20,324.15h-2.7"/>
<path d="M78.30,282.50h2.7 M349.20,282.50h-2.7"/>
<path d="M78.30,240.85h2.7 M349.20,240.85h-2.7"/>
<path d="M78.30,199.20h2.7 M349.20,199.20h-2.7"/>
</g>
<rect x="78.30" y="199.20" width="270.90" height="166.60" fill="none" stroke="#5a5a5a" stroke-width="1.0"/>
<clipPath id="cbl"><rect x="78.3" y="199.2" width="270.90" height="167.60"/></clipPath>
<g clip-path="url(#cbl)" fill="none">
<path d="M85.30,365.73 C86.43,365.56 89.82,365.08 92.08,364.68 C94.34,364.28 96.59,363.83 98.85,363.33 C101.11,362.83 103.37,362.28 105.63,361.67 C107.89,361.06 110.15,360.40 112.41,359.68 C114.67,358.96 116.92,358.18 119.18,357.35 C121.44,356.52 123.70,355.64 125.96,354.70 C128.22,353.76 130.48,352.76 132.74,351.71 C135.00,350.66 137.26,349.55 139.52,348.40 C141.78,347.25 144.03,346.04 146.29,344.79 C148.55,343.54 150.81,342.23 153.07,340.89 C155.33,339.55 157.59,338.16 159.85,336.73 C162.11,335.30 164.36,333.82 166.62,332.31 C168.88,330.80 171.14,329.25 173.40,327.68 C175.66,326.11 177.92,324.49 180.18,322.86 C182.44,321.23 184.69,319.56 186.95,317.88 C189.21,316.20 191.47,314.49 193.73,312.77 C195.99,311.05 198.25,309.30 200.51,307.55 C202.77,305.80 205.02,304.04 207.28,302.27 C209.54,300.50 211.80,298.72 214.06,296.95 C216.32,295.18 218.58,293.39 220.84,291.62 C223.10,289.85 225.36,288.07 227.62,286.31 C229.88,284.55 232.13,282.80 234.39,281.06 C236.65,279.32 238.91,277.59 241.17,275.88 C243.43,274.17 245.69,272.47 247.95,270.80 C250.21,269.13 252.46,267.47 254.72,265.84 C256.98,264.21 259.24,262.60 261.50,261.02 C263.76,259.44 266.02,257.88 268.28,256.35 C270.54,254.82 272.79,253.32 275.05,251.85 C277.31,250.38 279.57,248.94 281.83,247.52 C284.09,246.10 286.35,244.71 288.61,243.35 C290.87,241.99 293.12,240.67 295.38,239.36 C297.64,238.05 299.90,236.77 302.16,235.51 C304.42,234.25 306.68,233.03 308.94,231.81 C311.20,230.59 313.46,229.40 315.72,228.22 C317.98,227.04 320.23,225.88 322.49,224.72 C324.75,223.56 327.01,222.41 329.27,221.26 C331.53,220.11 333.79,218.97 336.05,217.81 C338.31,216.65 340.56,215.49 342.82,214.30 C345.08,213.11 348.47,211.28 349.60,210.68" stroke="#4a6fb5" stroke-width="1.45" stroke-dasharray="2.3,1.7"/>
<path d="M200.30,307.55 C201.38,306.44 204.63,303.05 206.79,300.88 C208.95,298.71 211.12,296.58 213.28,294.51 C215.44,292.44 217.61,290.42 219.77,288.44 C221.94,286.46 224.11,284.53 226.27,282.64 C228.44,280.75 230.60,278.91 232.76,277.10 C234.92,275.30 237.09,273.53 239.25,271.81 C241.41,270.09 243.58,268.40 245.74,266.76 C247.90,265.12 250.07,263.51 252.23,261.94 C254.39,260.37 256.56,258.83 258.72,257.33 C260.88,255.83 263.05,254.36 265.21,252.92 C267.37,251.48 269.53,250.07 271.70,248.69 C273.87,247.31 276.03,245.96 278.20,244.64 C280.37,243.32 282.53,242.02 284.69,240.75 C286.85,239.48 289.02,238.23 291.18,237.01 C293.34,235.78 295.51,234.58 297.67,233.40 C299.83,232.22 302.00,231.06 304.16,229.92 C306.32,228.78 308.49,227.66 310.65,226.55 C312.81,225.44 314.98,224.35 317.14,223.27 C319.30,222.19 321.46,221.13 323.63,220.08 C325.80,219.03 327.96,217.99 330.13,216.96 C332.30,215.93 334.46,214.91 336.62,213.90 C338.78,212.89 340.95,211.89 343.11,210.89 C345.27,209.89 348.52,208.41 349.60,207.91" stroke="#7b6fb8" stroke-width="1.7"/>
<path d="M85.4,365.6 L200.3,365.6 L200.30,365.60 C200.31,365.07 200.31,363.53 200.35,362.41 C200.39,361.30 200.44,360.10 200.52,358.91 C200.60,357.72 200.70,356.51 200.83,355.29 C200.96,354.07 201.12,352.83 201.30,351.59 C201.48,350.34 201.69,349.08 201.93,347.82 C202.17,346.56 202.43,345.28 202.73,344.00 C203.03,342.72 203.35,341.44 203.71,340.15 C204.07,338.86 204.46,337.56 204.88,336.26 C205.30,334.96 205.75,333.65 206.23,332.34 C206.71,331.03 207.23,329.71 207.78,328.39 C208.33,327.07 208.91,325.75 209.52,324.42 C210.14,323.09 210.79,321.76 211.47,320.43 C212.15,319.10 212.87,317.77 213.62,316.43 C214.37,315.09 215.15,313.75 215.97,312.41 C216.79,311.07 217.65,309.72 218.54,308.37 C219.43,307.02 220.37,305.68 221.33,304.33 C222.30,302.98 223.29,301.62 224.33,300.27 C225.37,298.92 226.44,297.56 227.55,296.21 C228.66,294.85 229.81,293.50 230.99,292.14 C232.17,290.78 233.39,289.43 234.65,288.07 C235.91,286.71 237.21,285.35 238.55,283.99 C239.89,282.63 241.26,281.27 242.67,279.91 C244.08,278.55 245.53,277.18 247.02,275.82 C248.51,274.46 250.04,273.10 251.61,271.74 C253.18,270.38 254.78,269.02 256.43,267.66 C258.08,266.30 259.76,264.94 261.49,263.58 C263.22,262.22 264.97,260.86 266.78,259.50 C268.58,258.14 270.43,256.79 272.32,255.43 C274.21,254.07 276.13,252.72 278.10,251.36 C280.07,250.01 282.08,248.65 284.13,247.30 C286.18,245.95 288.27,244.59 290.40,243.24 C292.53,241.89 294.71,240.55 296.92,239.20 C299.13,237.85 301.38,236.50 303.68,235.16 C305.98,233.81 308.32,232.47 310.70,231.13 C313.08,229.79 315.50,228.45 317.97,227.11 C320.44,225.77 322.94,224.43 325.49,223.10 C328.04,221.77 330.63,220.44 333.27,219.11 C335.91,217.78 338.59,216.45 341.31,215.13 C344.03,213.81 348.22,211.82 349.60,211.16" stroke="#e8532b" stroke-width="1.7" stroke-linejoin="round"/>
</g>
<text x="75.40" y="371.00" font-size="15.8" text-anchor="end" fill="#000"  stroke="#000" stroke-width="0.32">0</text>
<text x="75.40" y="329.35" font-size="15.8" text-anchor="end" fill="#000"  stroke="#000" stroke-width="0.32">100</text>
<text x="75.40" y="287.70" font-size="15.8" text-anchor="end" fill="#000"  stroke="#000" stroke-width="0.32">200</text>
<text x="75.40" y="246.05" font-size="15.8" text-anchor="end" fill="#000"  stroke="#000" stroke-width="0.32">300</text>
<text x="75.40" y="204.40" font-size="15.8" text-anchor="end" fill="#000"  stroke="#000" stroke-width="0.32">400</text>
<text x="78.60" y="384.70" font-size="15.8" text-anchor="middle" fill="#000"  stroke="#000" stroke-width="0.32">4</text>
<text x="128.46" y="384.70" font-size="15.8" text-anchor="middle" fill="#000"  stroke="#000" stroke-width="0.32">6</text>
<text x="178.32" y="384.70" font-size="15.8" text-anchor="middle" fill="#000"  stroke="#000" stroke-width="0.32">8</text>
<text x="228.18" y="384.70" font-size="15.8" text-anchor="middle" fill="#000"  stroke="#000" stroke-width="0.32">10</text>
<text x="278.04" y="384.70" font-size="15.8" text-anchor="middle" fill="#000"  stroke="#000" stroke-width="0.32">12</text>
<text x="327.90" y="384.70" font-size="15.8" text-anchor="middle" fill="#000"  stroke="#000" stroke-width="0.32">14</text>
<text x="213.80" y="400.40" font-size="15.8" text-anchor="middle" fill="#000"  stroke="#000" stroke-width="0.32">x (a.u.)</text>
<text transform="translate(37.3,283) rotate(-90)" font-size="15.8" text-anchor="middle" stroke="#000" stroke-width="0.32">t (as)</text>
<text x="82.3" y="193.4" font-size="17.5" fill="#6f8fc8" stroke="#6f8fc8" stroke-width="0.32">x<tspan font-size="17.8" dy="5.3" dx="0.6">i</tspan></text>
<text x="185.4" y="193.0" font-size="17.5" fill="#6a9ac6" stroke="#6a9ac6" stroke-width="0.32">x<tspan font-size="17.8" dy="5.3" dx="0.6">exit</tspan></text>
<line x1="88.9" y1="212.7" x2="108.3" y2="212.7" stroke="#4a6fb5" stroke-width="1.45" stroke-dasharray="2.3,1.7"/>
<line x1="88.9" y1="230.2" x2="108.3" y2="230.2" stroke="#e8532b" stroke-width="1.5"/>
<line x1="88.9" y1="248.6" x2="108.3" y2="248.6" stroke="#7b6fb8" stroke-width="1.5"/>
<text x="113.2" y="217.29999999999998" font-size="14.5" stroke="#000" stroke-width="0.32">t<tspan font-size="8.2" dy="2.6">W</tspan><tspan dy="-2.6">(x)</tspan></text>
<text x="113.2" y="234.79999999999998" font-size="14.5" stroke="#000" stroke-width="0.32">t<tspan font-size="6.5" dy="2.6">sm</tspan><tspan dy="-2.6">(x)=t</tspan><tspan font-size="6.5" dy="2.6">c</tspan><tspan dy="-2.6">(x,0,0)</tspan></text>
<text x="113.2" y="253.2" font-size="14.5" stroke="#000" stroke-width="0.32">t<tspan font-size="6.5" dy="2.6">c</tspan><tspan dy="-2.6">(x,τ</tspan><tspan font-size="8.2" dy="2.6">W</tspan><tspan dy="-2.6">,p</tspan><tspan font-size="8.2" dy="2.6">W</tspan><tspan dy="-2.6">)</tspan></text>
<rect x="92.7" y="265.8" width="97.2" height="24.6" fill="#fff" stroke="#38e2e2" stroke-width="1.5"/><text x="94.7" y="275.40000000000003" font-size="10.2" stroke="#000" stroke-width="0.12">Classically forbidden</text><text x="97.3" y="287.6" font-size="10.2" stroke="#000" stroke-width="0.12">region</text>
<rect x="411.4" y="202.5" width="71.70" height="164.70" fill="#eefcfd"/>
<line x1="483.1" y1="202.5" x2="483.1" y2="367.2" stroke="#a9bfdf" stroke-width="1.4"/>
<line x1="420.8" y1="202.5" x2="420.8" y2="367.2" stroke="#9fbbe0" stroke-width="1" stroke-dasharray="3.2,3.2"/>
<g stroke="#5a5a5a" stroke-width="0.8" fill="none">
<path d="M415.42,367.20v-1.6 M415.42,202.50v1.6"/>
<path d="M431.75,367.20v-1.6 M431.75,202.50v1.6"/>
<path d="M448.08,367.20v-1.6 M448.08,202.50v1.6"/>
<path d="M464.42,367.20v-1.6 M464.42,202.50v1.6"/>
<path d="M480.75,367.20v-1.6 M480.75,202.50v1.6"/>
<path d="M497.09,367.20v-1.6 M497.09,202.50v1.6"/>
<path d="M513.42,367.20v-1.6 M513.42,202.50v1.6"/>
<path d="M529.76,367.20v-1.6 M529.76,202.50v1.6"/>
<path d="M546.10,367.20v-1.6 M546.10,202.50v1.6"/>
<path d="M562.43,367.20v-1.6 M562.43,202.50v1.6"/>
<path d="M578.76,367.20v-1.6 M578.76,202.50v1.6"/>
<path d="M595.10,367.20v-1.6 M595.10,202.50v1.6"/>
<path d="M611.43,367.20v-1.6 M611.43,202.50v1.6"/>
<path d="M627.77,367.20v-1.6 M627.77,202.50v1.6"/>
<path d="M644.11,367.20v-1.6 M644.11,202.50v1.6"/>
<path d="M660.44,367.20v-1.6 M660.44,202.50v1.6"/>
<path d="M676.77,367.20v-1.6 M676.77,202.50v1.6"/>
<path d="M431.75,367.20v-2.7 M431.75,202.50v2.7"/>
<path d="M497.09,367.20v-2.7 M497.09,202.50v2.7"/>
<path d="M562.43,367.20v-2.7 M562.43,202.50v2.7"/>
<path d="M627.77,367.20v-2.7 M627.77,202.50v2.7"/>
<path d="M411.40,367.20h1.6 M679.50,367.20h-1.6"/>
<path d="M411.40,358.96h1.6 M679.50,358.96h-1.6"/>
<path d="M411.40,350.73h1.6 M679.50,350.73h-1.6"/>
<path d="M411.40,342.50h1.6 M679.50,342.50h-1.6"/>
<path d="M411.40,334.26h1.6 M679.50,334.26h-1.6"/>
<path d="M411.40,326.02h1.6 M679.50,326.02h-1.6"/>
<path d="M411.40,317.79h1.6 M679.50,317.79h-1.6"/>
<path d="M411.40,309.56h1.6 M679.50,309.56h-1.6"/>
<path d="M411.40,301.32h1.6 M679.50,301.32h-1.6"/>
<path d="M411.40,293.08h1.6 M679.50,293.08h-1.6"/>
<path d="M411.40,284.85h1.6 M679.50,284.85h-1.6"/>
<path d="M411.40,276.62h1.6 M679.50,276.62h-1.6"/>
<path d="M411.40,268.38h1.6 M679.50,268.38h-1.6"/>
<path d="M411.40,260.14h1.6 M679.50,260.14h-1.6"/>
<path d="M411.40,251.91h1.6 M679.50,251.91h-1.6"/>
<path d="M411.40,243.67h1.6 M679.50,243.67h-1.6"/>
<path d="M411.40,235.44h1.6 M679.50,235.44h-1.6"/>
<path d="M411.40,227.20h1.6 M679.50,227.20h-1.6"/>
<path d="M411.40,218.97h1.6 M679.50,218.97h-1.6"/>
<path d="M411.40,210.73h1.6 M679.50,210.73h-1.6"/>
<path d="M411.40,202.50h1.6 M679.50,202.50h-1.6"/>
<path d="M411.40,367.20h2.7 M679.50,367.20h-2.7"/>
<path d="M411.40,326.02h2.7 M679.50,326.02h-2.7"/>
<path d="M411.40,284.85h2.7 M679.50,284.85h-2.7"/>
<path d="M411.40,243.67h2.7 M679.50,243.67h-2.7"/>
<path d="M411.40,202.50h2.7 M679.50,202.50h-2.7"/>
</g>
<rect x="411.40" y="202.50" width="268.10" height="164.70" fill="none" stroke="#5a5a5a" stroke-width="1.0"/>
<clipPath id="cbr"><rect x="411.4" y="202.5" width="268.10" height="165.70"/></clipPath>
<g clip-path="url(#cbr)" fill="none">
<path d="M420.80,367.04 C421.91,366.52 425.23,364.98 427.44,363.94 C429.65,362.90 431.87,361.86 434.08,360.81 C436.29,359.76 438.51,358.70 440.72,357.63 C442.93,356.56 445.15,355.49 447.36,354.41 C449.57,353.33 451.80,352.25 454.01,351.17 C456.22,350.09 458.44,348.99 460.65,347.90 C462.86,346.81 465.08,345.71 467.29,344.61 C469.50,343.51 471.72,342.41 473.93,341.30 C476.14,340.19 478.36,339.09 480.57,337.98 C482.78,336.87 485.00,335.76 487.21,334.65 C489.42,333.54 491.64,332.43 493.85,331.32 C496.06,330.21 498.28,329.11 500.49,328.00 C502.70,326.89 504.92,325.78 507.13,324.68 C509.34,323.58 511.56,322.48 513.77,321.38 C515.99,320.28 518.20,319.18 520.42,318.09 C522.63,317.00 524.85,315.91 527.06,314.83 C529.27,313.75 531.49,312.66 533.70,311.59 C535.91,310.51 538.13,309.44 540.34,308.38 C542.55,307.32 544.77,306.26 546.98,305.21 C549.19,304.16 551.41,303.12 553.62,302.08 C555.83,301.04 558.05,300.02 560.26,299.00 C562.47,297.98 564.69,296.97 566.90,295.97 C569.11,294.97 571.33,293.97 573.54,292.99 C575.75,292.01 577.96,291.03 580.18,290.07 C582.39,289.11 584.62,288.16 586.83,287.22 C589.05,286.28 591.26,285.36 593.47,284.44 C595.68,283.52 597.90,282.62 600.11,281.73 C602.32,280.84 604.54,279.97 606.75,279.11 C608.96,278.25 611.18,277.39 613.39,276.56 C615.60,275.73 617.82,274.91 620.03,274.11 C622.24,273.31 624.46,272.52 626.67,271.75 C628.88,270.98 631.10,270.23 633.31,269.49 C635.52,268.75 637.74,268.03 639.95,267.33 C642.16,266.63 644.38,265.94 646.59,265.28 C648.81,264.61 651.02,263.97 653.24,263.34 C655.46,262.71 657.67,262.10 659.88,261.52 C662.09,260.94 664.31,260.37 666.52,259.83 C668.73,259.29 670.95,258.76 673.16,258.26 C675.37,257.76 678.69,257.06 679.80,256.82" stroke="#4a6fb5" stroke-width="1.45" stroke-dasharray="2.3,1.7"/>
<path d="M483.10,337.53 C484.53,336.56 488.80,333.58 491.65,331.70 C494.50,329.82 497.35,328.01 500.20,326.26 C503.05,324.50 505.91,322.82 508.76,321.17 C511.61,319.52 514.46,317.93 517.31,316.37 C520.16,314.81 523.01,313.31 525.86,311.84 C528.71,310.37 531.56,308.93 534.41,307.53 C537.26,306.13 540.12,304.76 542.97,303.42 C545.82,302.08 548.67,300.76 551.52,299.47 C554.37,298.18 557.22,296.92 560.07,295.67 C562.92,294.42 565.77,293.20 568.62,291.99 C571.47,290.78 574.32,289.59 577.17,288.42 C580.02,287.25 582.88,286.10 585.73,284.96 C588.58,283.82 591.43,282.70 594.28,281.59 C597.13,280.48 599.98,279.39 602.83,278.32 C605.68,277.25 608.53,276.18 611.38,275.14 C614.23,274.10 617.08,273.08 619.93,272.08 C622.78,271.08 625.64,270.08 628.49,269.12 C631.34,268.16 634.19,267.22 637.04,266.31 C639.89,265.40 642.74,264.50 645.59,263.64 C648.44,262.78 651.29,261.95 654.14,261.16 C656.99,260.37 659.85,259.60 662.70,258.88 C665.55,258.16 668.40,257.47 671.25,256.84 C674.10,256.21 678.38,255.37 679.80,255.08" stroke="#7b6fb8" stroke-width="1.7"/>
<path d="M420.8,367.0 L483.05,367.0 L483.05,367.00 C483.06,366.61 483.06,365.50 483.11,364.67 C483.16,363.84 483.23,362.91 483.34,361.99 C483.45,361.07 483.58,360.12 483.75,359.16 C483.92,358.20 484.12,357.23 484.36,356.24 C484.60,355.25 484.88,354.24 485.19,353.23 C485.50,352.22 485.86,351.20 486.25,350.17 C486.64,349.14 487.08,348.11 487.55,347.06 C488.02,346.01 488.53,344.96 489.08,343.90 C489.63,342.84 490.22,341.77 490.86,340.70 C491.50,339.63 492.18,338.56 492.90,337.48 C493.62,336.40 494.39,335.31 495.20,334.22 C496.01,333.13 496.87,332.04 497.77,330.94 C498.67,329.84 499.61,328.74 500.60,327.63 C501.59,326.52 502.63,325.42 503.71,324.31 C504.79,323.20 505.91,322.08 507.09,320.96 C508.26,319.84 509.49,318.73 510.76,317.61 C512.03,316.49 513.34,315.37 514.71,314.24 C516.08,313.11 517.50,311.98 518.96,310.85 C520.42,309.72 521.93,308.59 523.49,307.46 C525.05,306.33 526.66,305.19 528.32,304.06 C529.98,302.93 531.69,301.80 533.45,300.66 C535.21,299.52 537.02,298.38 538.88,297.24 C540.74,296.10 542.66,294.97 544.62,293.83 C546.58,292.69 548.59,291.55 550.66,290.41 C552.73,289.27 554.85,288.14 557.02,287.00 C559.19,285.86 561.41,284.72 563.68,283.58 C565.95,282.44 568.28,281.31 570.66,280.17 C573.04,279.03 575.47,277.90 577.96,276.76 C580.45,275.62 582.99,274.49 585.58,273.35 C588.17,272.22 590.82,271.08 593.52,269.95 C596.22,268.82 598.97,267.68 601.78,266.55 C604.59,265.42 607.45,264.30 610.37,263.17 C613.29,262.04 616.26,260.91 619.29,259.79 C622.32,258.67 625.40,257.55 628.54,256.43 C631.68,255.31 634.87,254.19 638.12,253.07 C641.37,251.95 644.67,250.84 648.03,249.73 C651.39,248.62 654.81,247.51 658.28,246.40 C661.75,245.29 665.28,244.18 668.87,243.08 C672.46,241.98 677.98,240.34 679.80,239.79" stroke="#e8532b" stroke-width="1.7" stroke-linejoin="round"/>
</g>
<text x="408.50" y="372.40" font-size="15.8" text-anchor="end" fill="#000"  stroke="#000" stroke-width="0.32">0</text>
<text x="408.50" y="331.22" font-size="15.8" text-anchor="end" fill="#000"  stroke="#000" stroke-width="0.32">100</text>
<text x="408.50" y="290.05" font-size="15.8" text-anchor="end" fill="#000"  stroke="#000" stroke-width="0.32">200</text>
<text x="408.50" y="248.87" font-size="15.8" text-anchor="end" fill="#000"  stroke="#000" stroke-width="0.32">300</text>
<text x="408.50" y="207.70" font-size="15.8" text-anchor="end" fill="#000"  stroke="#000" stroke-width="0.32">400</text>
<text x="432.15" y="386.10" font-size="15.8" text-anchor="middle" fill="#000"  stroke="#000" stroke-width="0.32">4</text>
<text x="497.49" y="386.10" font-size="15.8" text-anchor="middle" fill="#000"  stroke="#000" stroke-width="0.32">6</text>
<text x="562.83" y="386.10" font-size="15.8" text-anchor="middle" fill="#000"  stroke="#000" stroke-width="0.32">8</text>
<text x="628.17" y="386.10" font-size="15.8" text-anchor="middle" fill="#000"  stroke="#000" stroke-width="0.32">10</text>
<text x="545.00" y="401.80" font-size="15.8" text-anchor="middle" fill="#000"  stroke="#000" stroke-width="0.32">x (a.u.)</text>
<text transform="translate(371.8,285) rotate(-90)" font-size="15.8" text-anchor="middle" stroke="#000" stroke-width="0.32">t (as)</text>
<text x="415.6" y="196.8" font-size="17.5" fill="#6f8fc8" stroke="#6f8fc8" stroke-width="0.32">x<tspan font-size="17.8" dy="5.3" dx="0.6">i</tspan></text>
<text x="467.2" y="196.4" font-size="17.5" fill="#6a9ac6" stroke="#6a9ac6" stroke-width="0.32">x<tspan font-size="17.8" dy="5.3" dx="0.6">exit</tspan></text>
<line x1="494.9" y1="215.8" x2="513.3" y2="215.8" stroke="#4a6fb5" stroke-width="1.45" stroke-dasharray="2.3,1.7"/>
<line x1="494.9" y1="233.1" x2="513.3" y2="233.1" stroke="#e8532b" stroke-width="1.5"/>
<line x1="494.9" y1="251.5" x2="513.3" y2="251.5" stroke="#7b6fb8" stroke-width="1.5"/>
<text x="518.8" y="220.4" font-size="14.5" stroke="#000" stroke-width="0.32">t<tspan font-size="8.2" dy="2.6">W</tspan><tspan dy="-2.6">(x)</tspan></text>
<text x="518.8" y="237.7" font-size="14.5" stroke="#000" stroke-width="0.32">t<tspan font-size="6.5" dy="2.6">sm</tspan><tspan dy="-2.6">(x)=t</tspan><tspan font-size="6.5" dy="2.6">c</tspan><tspan dy="-2.6">(x,0,0)</tspan></text>
<text x="518.8" y="256.1" font-size="14.5" stroke="#000" stroke-width="0.32">t<tspan font-size="6.5" dy="2.6">c</tspan><tspan dy="-2.6">(x,τ</tspan><tspan font-size="8.2" dy="2.6">W</tspan><tspan dy="-2.6">,p</tspan><tspan font-size="8.2" dy="2.6">W</tspan><tspan dy="-2.6">)</tspan></text>
<rect x="412.6" y="282.5" width="97.5" height="24.7" fill="#fff" stroke="#38e2e2" stroke-width="1.5"/><text x="414.6" y="292.1" font-size="10.2" stroke="#000" stroke-width="0.12">Classically forbidden</text><text x="417.20000000000005" y="304.3" font-size="10.2" stroke="#000" stroke-width="0.12">region</text>
<g stroke="#555" stroke-width="0.8" fill="none">
<path d="M70.79,598.30v-1.6 M70.79,426.80v1.6"/>
<path d="M79.20,598.30v-1.6 M79.20,426.80v1.6"/>
<path d="M87.61,598.30v-1.6 M87.61,426.80v1.6"/>
<path d="M96.03,598.30v-1.6 M96.03,426.80v1.6"/>
<path d="M104.44,598.30v-1.6 M104.44,426.80v1.6"/>
<path d="M112.86,598.30v-1.6 M112.86,426.80v1.6"/>
<path d="M121.27,598.30v-1.6 M121.27,426.80v1.6"/>
<path d="M129.68,598.30v-1.6 M129.68,426.80v1.6"/>
<path d="M138.10,598.30v-1.6 M138.10,426.80v1.6"/>
<path d="M146.51,598.30v-1.6 M146.51,426.80v1.6"/>
<path d="M154.93,598.30v-1.6 M154.93,426.80v1.6"/>
<path d="M163.34,598.30v-1.6 M163.34,426.80v1.6"/>
<path d="M171.75,598.30v-1.6 M171.75,426.80v1.6"/>
<path d="M180.17,598.30v-1.6 M180.17,426.80v1.6"/>
<path d="M188.58,598.30v-1.6 M188.58,426.80v1.6"/>
<path d="M197.00,598.30v-1.6 M197.00,426.80v1.6"/>
<path d="M205.41,598.30v-1.6 M205.41,426.80v1.6"/>
<path d="M213.82,598.30v-1.6 M213.82,426.80v1.6"/>
<path d="M222.24,598.30v-1.6 M222.24,426.80v1.6"/>
<path d="M230.65,598.30v-1.6 M230.65,426.80v1.6"/>
<path d="M239.07,598.30v-1.6 M239.07,426.80v1.6"/>
<path d="M247.48,598.30v-1.6 M247.48,426.80v1.6"/>
<path d="M255.89,598.30v-1.6 M255.89,426.80v1.6"/>
<path d="M264.31,598.30v-1.6 M264.31,426.80v1.6"/>
<path d="M272.72,598.30v-1.6 M272.72,426.80v1.6"/>
<path d="M281.14,598.30v-1.6 M281.14,426.80v1.6"/>
<path d="M289.55,598.30v-1.6 M289.55,426.80v1.6"/>
<path d="M297.96,598.30v-1.6 M297.96,426.80v1.6"/>
<path d="M306.38,598.30v-1.6 M306.38,426.80v1.6"/>
<path d="M314.79,598.30v-1.6 M314.79,426.80v1.6"/>
<path d="M323.21,598.30v-1.6 M323.21,426.80v1.6"/>
<path d="M331.62,598.30v-1.6 M331.62,426.80v1.6"/>
<path d="M340.03,598.30v-1.6 M340.03,426.80v1.6"/>
<path d="M79.20,598.30v-2.7 M79.20,426.80v2.7"/>
<path d="M121.27,598.30v-2.7 M121.27,426.80v2.7"/>
<path d="M163.34,598.30v-2.7 M163.34,426.80v2.7"/>
<path d="M205.41,598.30v-2.7 M205.41,426.80v2.7"/>
<path d="M247.48,598.30v-2.7 M247.48,426.80v2.7"/>
<path d="M289.55,598.30v-2.7 M289.55,426.80v2.7"/>
<path d="M331.62,598.30v-2.7 M331.62,426.80v2.7"/>
<path d="M68.40,598.30h1.6 M345.60,598.30h-1.6"/>
<path d="M68.40,589.72h1.6 M345.60,589.72h-1.6"/>
<path d="M68.40,581.15h1.6 M345.60,581.15h-1.6"/>
<path d="M68.40,572.57h1.6 M345.60,572.57h-1.6"/>
<path d="M68.40,564.00h1.6 M345.60,564.00h-1.6"/>
<path d="M68.40,555.42h1.6 M345.60,555.42h-1.6"/>
<path d="M68.40,546.85h1.6 M345.60,546.85h-1.6"/>
<path d="M68.40,538.27h1.6 M345.60,538.27h-1.6"/>
<path d="M68.40,529.70h1.6 M345.60,529.70h-1.6"/>
<path d="M68.40,521.12h1.6 M345.60,521.12h-1.6"/>
<path d="M68.40,512.55h1.6 M345.60,512.55h-1.6"/>
<path d="M68.40,503.97h1.6 M345.60,503.97h-1.6"/>
<path d="M68.40,495.40h1.6 M345.60,495.40h-1.6"/>
<path d="M68.40,486.82h1.6 M345.60,486.82h-1.6"/>
<path d="M68.40,478.25h1.6 M345.60,478.25h-1.6"/>
<path d="M68.40,469.67h1.6 M345.60,469.67h-1.6"/>
<path d="M68.40,461.10h1.6 M345.60,461.10h-1.6"/>
<path d="M68.40,452.52h1.6 M345.60,452.52h-1.6"/>
<path d="M68.40,443.95h1.6 M345.60,443.95h-1.6"/>
<path d="M68.40,435.37h1.6 M345.60,435.37h-1.6"/>
<path d="M68.40,426.80h1.6 M345.60,426.80h-1.6"/>
<path d="M68.40,598.30h2.7 M345.60,598.30h-2.7"/>
<path d="M68.40,555.42h2.7 M345.60,555.42h-2.7"/>
<path d="M68.40,512.55h2.7 M345.60,512.55h-2.7"/>
<path d="M68.40,469.67h2.7 M345.60,469.67h-2.7"/>
<path d="M68.40,426.80h2.7 M345.60,426.80h-2.7"/>
</g>
<rect x="68.40" y="426.80" width="277.20" height="171.50" fill="none" stroke="#7d7d7d" stroke-width="1.0"/>
<path d="M73.80,443.60 C74.65,444.63 76.50,447.08 78.90,449.77 C81.30,452.47 84.72,456.31 88.20,459.78 C91.68,463.25 95.93,467.20 99.80,470.60 C103.67,474.00 107.53,477.13 111.40,480.21 C115.27,483.30 119.12,486.32 123.00,489.12 C126.88,491.91 130.82,494.60 134.70,497.00 C138.58,499.39 142.43,501.54 146.30,503.49 C150.17,505.45 154.03,507.14 157.90,508.72 C161.77,510.31 165.63,511.68 169.50,513.00 C173.37,514.31 177.23,515.47 181.10,516.63 C184.97,517.78 188.83,518.86 192.70,519.91 C196.57,520.96 200.58,521.99 204.30,522.92 C208.02,523.86 211.85,524.77 215.00,525.50 C218.15,526.23 217.97,526.32 223.20,527.32 C228.43,528.32 238.65,530.28 246.40,531.51 C254.15,532.73 261.95,533.75 269.70,534.66 C277.45,535.57 285.17,536.28 292.90,536.97 C300.63,537.67 308.17,538.23 316.10,538.82 C324.03,539.41 336.43,540.22 340.50,540.50" fill="none" stroke="#5c81c4" stroke-width="1.7"/>
<path d="M73.80,445.90 C74.65,446.90 76.50,449.39 78.90,451.90 C81.30,454.41 84.72,457.98 88.20,460.98 C91.68,463.98 95.93,467.23 99.80,469.89 C103.67,472.54 107.53,474.75 111.40,476.91 C115.27,479.08 119.12,480.96 123.00,482.86 C126.88,484.76 130.82,486.56 134.70,488.31 C138.58,490.07 142.43,491.74 146.30,493.37 C150.17,495.00 154.03,496.55 157.90,498.10 C161.77,499.65 165.63,501.20 169.50,502.67 C173.37,504.13 177.23,505.55 181.10,506.90 C184.97,508.26 188.83,509.55 192.70,510.79 C196.57,512.02 200.58,513.24 204.30,514.33 C208.02,515.42 211.85,516.49 215.00,517.33 C218.15,518.17 217.97,518.21 223.20,519.37 C228.43,520.53 238.65,522.79 246.40,524.28 C254.15,525.78 261.95,527.13 269.70,528.33 C277.45,529.53 285.17,530.55 292.90,531.46 C300.63,532.38 308.17,533.10 316.10,533.83 C324.03,534.55 336.43,535.47 340.50,535.80" fill="none" stroke="#e19c24" stroke-width="1.7"/>
<text x="65.00" y="603.50" font-size="14.4" text-anchor="end" fill="#000"  stroke="#000" stroke-width="0.32">0</text>
<text x="65.00" y="560.62" font-size="14.4" text-anchor="end" fill="#000"  stroke="#000" stroke-width="0.32">50</text>
<text x="65.00" y="517.75" font-size="14.4" text-anchor="end" fill="#000"  stroke="#000" stroke-width="0.32">100</text>
<text x="65.00" y="474.87" font-size="14.4" text-anchor="end" fill="#000"  stroke="#000" stroke-width="0.32">150</text>
<text x="65.00" y="432.00" font-size="14.4" text-anchor="end" fill="#000"  stroke="#000" stroke-width="0.32">200</text>
<text x="79.40" y="615.60" font-size="14.6" text-anchor="middle" fill="#000"  stroke="#000" stroke-width="0.32">1</text>
<text x="121.47" y="615.60" font-size="14.6" text-anchor="middle" fill="#000"  stroke="#000" stroke-width="0.32">2</text>
<text x="163.54" y="615.60" font-size="14.6" text-anchor="middle" fill="#000"  stroke="#000" stroke-width="0.32">3</text>
<text x="205.61" y="615.60" font-size="14.6" text-anchor="middle" fill="#000"  stroke="#000" stroke-width="0.32">4</text>
<text x="247.68" y="615.60" font-size="14.6" text-anchor="middle" fill="#000"  stroke="#000" stroke-width="0.32">5</text>
<text x="289.75" y="615.60" font-size="14.6" text-anchor="middle" fill="#000"  stroke="#000" stroke-width="0.32">6</text>
<text x="331.82" y="615.60" font-size="14.6" text-anchor="middle" fill="#000"  stroke="#000" stroke-width="0.32">7</text>
<text x="207.2" y="639.5" font-size="15" text-anchor="middle" stroke="#000" stroke-width="0.32">Intensity (10<tspan font-size="10.6" dy="-6">14</tspan><tspan dy="6"> W/cm</tspan><tspan font-size="10.6" dy="-6">2</tspan><tspan dy="6">)</tspan></text>
<text transform="translate(30.8,511.5) rotate(-90)" font-size="14.7" text-anchor="middle" stroke="#000" stroke-width="0.32">τ<tspan font-size="10.3" dy="2.8">W</tspan><tspan dy="-2.8"> (as)</tspan></text>
<line x1="246" y1="451.5" x2="263.9" y2="451.5" stroke="#5c81c4" stroke-width="1.4"/>
<line x1="246" y1="469.2" x2="263.9" y2="469.2" stroke="#e19c24" stroke-width="1.4"/>
<text x="267.40" y="454.80" font-size="15.6" text-anchor="start" fill="#000"  stroke="#000" stroke-width="0.32">krypton</text>
<text x="267.40" y="473.30" font-size="15.6" text-anchor="start" fill="#000"  stroke="#000" stroke-width="0.32">argon</text>
<g stroke="#555" stroke-width="0.8" fill="none">
<path d="M403.84,599.70v-1.6 M403.84,426.80v1.6"/>
<path d="M412.40,599.70v-1.6 M412.40,426.80v1.6"/>
<path d="M420.96,599.70v-1.6 M420.96,426.80v1.6"/>
<path d="M429.52,599.70v-1.6 M429.52,426.80v1.6"/>
<path d="M438.08,599.70v-1.6 M438.08,426.80v1.6"/>
<path d="M446.64,599.70v-1.6 M446.64,426.80v1.6"/>
<path d="M455.20,599.70v-1.6 M455.20,426.80v1.6"/>
<path d="M463.76,599.70v-1.6 M463.76,426.80v1.6"/>
<path d="M472.32,599.70v-1.6 M472.32,426.80v1.6"/>
<path d="M480.88,599.70v-1.6 M480.88,426.80v1.6"/>
<path d="M489.44,599.70v-1.6 M489.44,426.80v1.6"/>
<path d="M498.00,599.70v-1.6 M498.00,426.80v1.6"/>
<path d="M506.56,599.70v-1.6 M506.56,426.80v1.6"/>
<path d="M515.12,599.70v-1.6 M515.12,426.80v1.6"/>
<path d="M523.68,599.70v-1.6 M523.68,426.80v1.6"/>
<path d="M532.24,599.70v-1.6 M532.24,426.80v1.6"/>
<path d="M540.80,599.70v-1.6 M540.80,426.80v1.6"/>
<path d="M549.36,599.70v-1.6 M549.36,426.80v1.6"/>
<path d="M557.92,599.70v-1.6 M557.92,426.80v1.6"/>
<path d="M566.48,599.70v-1.6 M566.48,426.80v1.6"/>
<path d="M575.04,599.70v-1.6 M575.04,426.80v1.6"/>
<path d="M583.60,599.70v-1.6 M583.60,426.80v1.6"/>
<path d="M592.16,599.70v-1.6 M592.16,426.80v1.6"/>
<path d="M600.72,599.70v-1.6 M600.72,426.80v1.6"/>
<path d="M609.28,599.70v-1.6 M609.28,426.80v1.6"/>
<path d="M617.84,599.70v-1.6 M617.84,426.80v1.6"/>
<path d="M626.40,599.70v-1.6 M626.40,426.80v1.6"/>
<path d="M634.96,599.70v-1.6 M634.96,426.80v1.6"/>
<path d="M643.52,599.70v-1.6 M643.52,426.80v1.6"/>
<path d="M652.08,599.70v-1.6 M652.08,426.80v1.6"/>
<path d="M660.64,599.70v-1.6 M660.64,426.80v1.6"/>
<path d="M669.20,599.70v-1.6 M669.20,426.80v1.6"/>
<path d="M677.76,599.70v-1.6 M677.76,426.80v1.6"/>
<path d="M412.40,599.70v-2.7 M412.40,426.80v2.7"/>
<path d="M455.20,599.70v-2.7 M455.20,426.80v2.7"/>
<path d="M498.00,599.70v-2.7 M498.00,426.80v2.7"/>
<path d="M540.80,599.70v-2.7 M540.80,426.80v2.7"/>
<path d="M583.60,599.70v-2.7 M583.60,426.80v2.7"/>
<path d="M626.40,599.70v-2.7 M626.40,426.80v2.7"/>
<path d="M669.20,599.70v-2.7 M669.20,426.80v2.7"/>
<path d="M402.10,599.70h1.6 M683.50,599.70h-1.6"/>
<path d="M402.10,591.05h1.6 M683.50,591.05h-1.6"/>
<path d="M402.10,582.41h1.6 M683.50,582.41h-1.6"/>
<path d="M402.10,573.76h1.6 M683.50,573.76h-1.6"/>
<path d="M402.10,565.12h1.6 M683.50,565.12h-1.6"/>
<path d="M402.10,556.47h1.6 M683.50,556.47h-1.6"/>
<path d="M402.10,547.82h1.6 M683.50,547.82h-1.6"/>
<path d="M402.10,539.18h1.6 M683.50,539.18h-1.6"/>
<path d="M402.10,530.53h1.6 M683.50,530.53h-1.6"/>
<path d="M402.10,521.89h1.6 M683.50,521.89h-1.6"/>
<path d="M402.10,513.24h1.6 M683.50,513.24h-1.6"/>
<path d="M402.10,504.59h1.6 M683.50,504.59h-1.6"/>
<path d="M402.10,495.95h1.6 M683.50,495.95h-1.6"/>
<path d="M402.10,487.30h1.6 M683.50,487.30h-1.6"/>
<path d="M402.10,478.66h1.6 M683.50,478.66h-1.6"/>
<path d="M402.10,470.01h1.6 M683.50,470.01h-1.6"/>
<path d="M402.10,461.36h1.6 M683.50,461.36h-1.6"/>
<path d="M402.10,452.72h1.6 M683.50,452.72h-1.6"/>
<path d="M402.10,444.07h1.6 M683.50,444.07h-1.6"/>
<path d="M402.10,435.43h1.6 M683.50,435.43h-1.6"/>
<path d="M402.10,426.78h1.6 M683.50,426.78h-1.6"/>
<path d="M402.10,599.70h2.7 M683.50,599.70h-2.7"/>
<path d="M402.10,556.47h2.7 M683.50,556.47h-2.7"/>
<path d="M402.10,513.24h2.7 M683.50,513.24h-2.7"/>
<path d="M402.10,470.01h2.7 M683.50,470.01h-2.7"/>
<path d="M402.10,426.78h2.7 M683.50,426.78h-2.7"/>
</g>
<rect x="402.10" y="426.80" width="281.40" height="172.90" fill="none" stroke="#777" stroke-width="1.3"/>
<path d="M407.40,483.10 C410.03,481.95 416.70,478.68 423.20,476.17 C429.70,473.67 438.65,470.44 446.40,468.08 C454.15,465.73 461.95,463.77 469.70,462.04 C477.45,460.32 485.17,458.90 492.90,457.72 C500.63,456.54 508.25,455.71 516.10,454.96 C523.95,454.20 532.15,453.73 540.00,453.19 C547.85,452.66 555.47,452.19 563.20,451.73 C570.93,451.27 578.65,450.82 586.40,450.43 C594.15,450.04 601.95,449.73 609.70,449.41 C617.45,449.10 625.17,448.82 632.90,448.55 C640.63,448.29 648.57,448.06 656.10,447.85 C663.63,447.64 674.43,447.39 678.10,447.30" fill="none" stroke="#5c81c4" stroke-width="1.7"/>
<path d="M407.40,482.60 C410.03,481.43 416.70,478.13 423.20,475.60 C429.70,473.08 438.65,469.85 446.40,467.48 C454.15,465.10 461.95,463.17 469.70,461.35 C477.45,459.52 485.17,458.00 492.90,456.55 C500.63,455.10 508.25,453.86 516.10,452.64 C523.95,451.42 532.15,450.32 540.00,449.24 C547.85,448.17 555.47,447.09 563.20,446.19 C570.93,445.28 578.65,444.48 586.40,443.79 C594.15,443.11 601.95,442.56 609.70,442.07 C617.45,441.58 625.17,441.22 632.90,440.87 C640.63,440.51 648.57,440.22 656.10,439.94 C663.63,439.67 674.43,439.32 678.10,439.20" fill="none" stroke="#e19c24" stroke-width="1.7"/>
<text x="398.70" y="604.90" font-size="14.4" text-anchor="end" fill="#000"  stroke="#000" stroke-width="0.32">0.0</text>
<text x="398.70" y="561.67" font-size="14.4" text-anchor="end" fill="#000"  stroke="#000" stroke-width="0.32">0.1</text>
<text x="398.70" y="518.44" font-size="14.4" text-anchor="end" fill="#000"  stroke="#000" stroke-width="0.32">0.2</text>
<text x="398.70" y="475.21" font-size="14.4" text-anchor="end" fill="#000"  stroke="#000" stroke-width="0.32">0.3</text>
<text x="398.70" y="431.98" font-size="14.4" text-anchor="end" fill="#000"  stroke="#000" stroke-width="0.32">0.4</text>
<text x="412.60" y="617.00" font-size="14.6" text-anchor="middle" fill="#000"  stroke="#000" stroke-width="0.32">1</text>
<text x="455.40" y="617.00" font-size="14.6" text-anchor="middle" fill="#000"  stroke="#000" stroke-width="0.32">2</text>
<text x="498.20" y="617.00" font-size="14.6" text-anchor="middle" fill="#000"  stroke="#000" stroke-width="0.32">3</text>
<text x="541.00" y="617.00" font-size="14.6" text-anchor="middle" fill="#000"  stroke="#000" stroke-width="0.32">4</text>
<text x="583.80" y="617.00" font-size="14.6" text-anchor="middle" fill="#000"  stroke="#000" stroke-width="0.32">5</text>
<text x="626.60" y="617.00" font-size="14.6" text-anchor="middle" fill="#000"  stroke="#000" stroke-width="0.32">6</text>
<text x="669.40" y="617.00" font-size="14.6" text-anchor="middle" fill="#000"  stroke="#000" stroke-width="0.32">7</text>
<text x="542.8" y="640.8" font-size="15" text-anchor="middle" stroke="#000" stroke-width="0.32">Intensity (10<tspan font-size="10.6" dy="-6">14</tspan><tspan dy="6"> W/cm</tspan><tspan font-size="10.6" dy="-6">2</tspan><tspan dy="6">)</tspan></text>
<text transform="translate(366.5,511.5) rotate(-90)" font-size="14.7" text-anchor="middle" stroke="#000" stroke-width="0.32">p<tspan font-size="10.3" dy="2.8">W</tspan><tspan dy="-2.8"> (a.u.)</tspan></text>
<line x1="582.5" y1="555.7" x2="599.9" y2="555.7" stroke="#5c81c4" stroke-width="1.4"/>
<line x1="582.5" y1="573.3" x2="599.9" y2="573.3" stroke="#e19c24" stroke-width="1.4"/>
<text x="605.10" y="559.50" font-size="15.6" text-anchor="start" fill="#000"  stroke="#000" stroke-width="0.32">krypton</text>
<text x="605.10" y="576.40" font-size="15.6" text-anchor="start" fill="#000"  stroke="#000" stroke-width="0.32">argon</text>

<g shape-rendering="auto">
<rect x="0.65" y="0.45" width="696.1" height="644.75" fill="none" stroke="#1c1c1c" stroke-width="1.25"/>
<line x1="0" y1="176.6" x2="698" y2="176.6" stroke="#6a6a6a" stroke-width="0.9"/>
<line x1="0" y1="179.3" x2="698" y2="179.3" stroke="#222" stroke-width="1"/>
<line x1="0" y1="415.8" x2="698" y2="415.8" stroke="#7a7a7a" stroke-width="0.9"/>
<line x1="0" y1="418.5" x2="698" y2="418.5" stroke="#333" stroke-width="1"/>
</g>

</svg>
</body></html>
